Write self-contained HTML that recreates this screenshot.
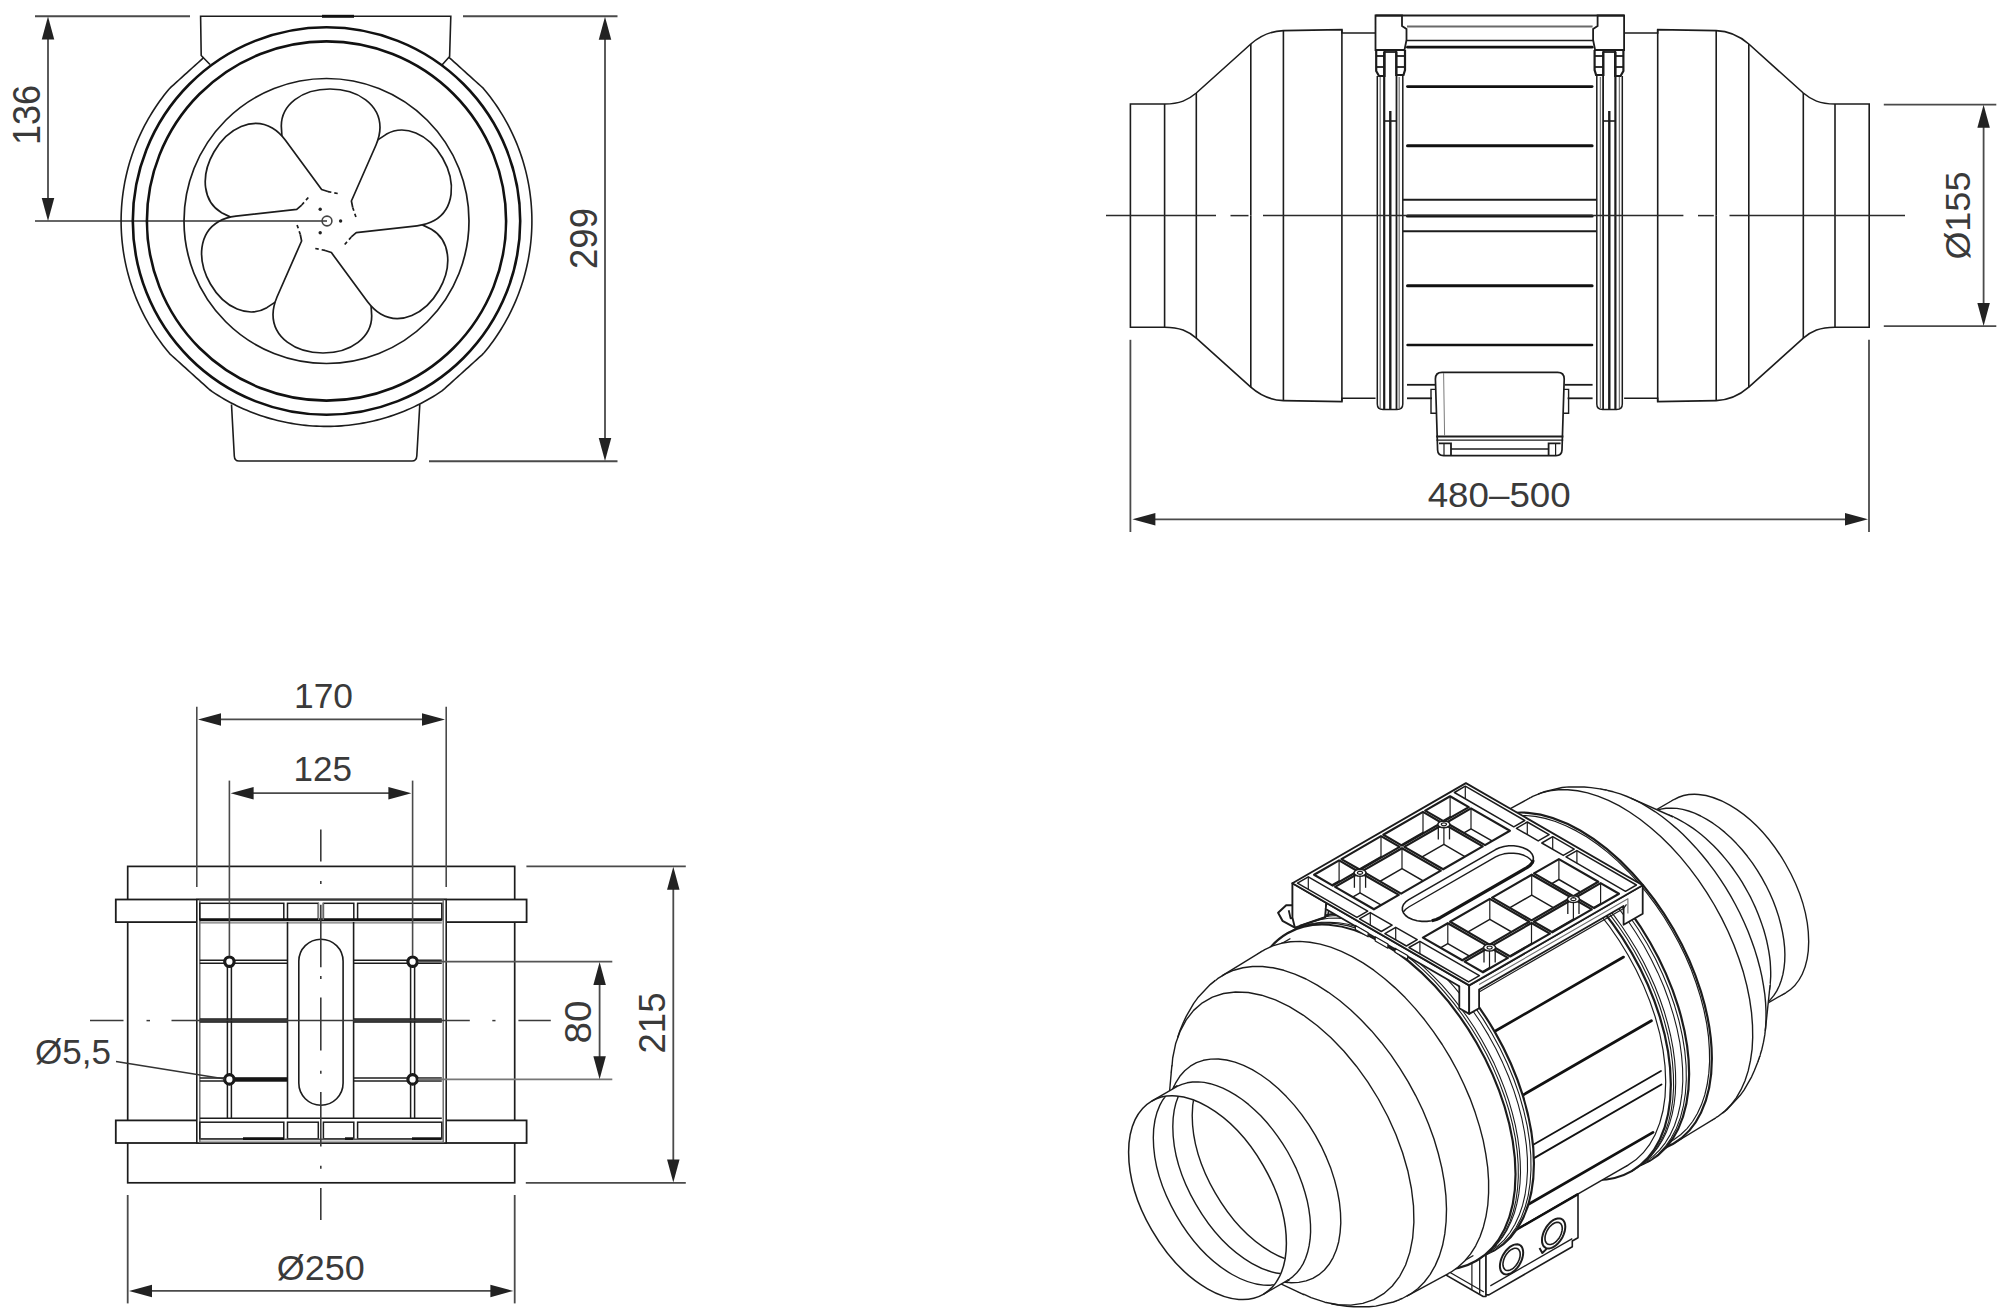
<!DOCTYPE html>
<html><head><meta charset="utf-8"><title>Inline duct fan – dimensions</title>
<style>html,body{margin:0;padding:0;background:#fff;}body{width:2000px;height:1314px;overflow:hidden;font-family:"Liberation Sans",sans-serif;}svg{display:block}</style></head>
<body>
<svg width="2000" height="1314" viewBox="0 0 2000 1314" font-family="'Liberation Sans', sans-serif" stroke-linecap="butt">
<rect width="2000" height="1314" fill="#ffffff"/>
<g id="front">
<line x1="35" y1="16.3" x2="190" y2="16.3" stroke="#4a4a4a" stroke-width="2" />
<line x1="35" y1="221" x2="327" y2="221" stroke="#666" stroke-width="2" />
<line x1="48" y1="30" x2="48" y2="205" stroke="#4a4a4a" stroke-width="1.8" />
<polygon points="48,16.5 54.25,39.5 41.75,39.5" fill="#222"/>
<polygon points="48,221 41.75,198 54.25,198" fill="#222"/>
<text x="40" y="115" font-size="38.5" text-anchor="middle" fill="#3a3a3a" textLength="60" lengthAdjust="spacingAndGlyphs" transform="rotate(-90 40 115)">136</text>
<line x1="463" y1="16.3" x2="617.5" y2="16.3" stroke="#4a4a4a" stroke-width="2" />
<line x1="429" y1="461.2" x2="617.5" y2="461.2" stroke="#4a4a4a" stroke-width="2" />
<line x1="605" y1="30" x2="605" y2="450" stroke="#4a4a4a" stroke-width="1.8" />
<polygon points="605,16.8 611.25,39.8 598.75,39.8" fill="#222"/>
<polygon points="605,461 598.75,438 611.25,438" fill="#222"/>
<text x="597.2" y="238.5" font-size="38.5" text-anchor="middle" fill="#3a3a3a" textLength="61" lengthAdjust="spacingAndGlyphs" transform="rotate(-90 597.2 238.5)">299</text>
<path d="M231.5,404.5 L234.3,456 Q234.5,461 239,461 L412,461 Q416.5,461 416.8,456 L419.8,404.5" stroke="#1c1c1c" stroke-width="1.6" fill="none" />
<path d="M210,64.5 L201.2,55.5 L200.6,16.3 L450.8,16.3 L449.6,56.5 L442,65" stroke="#1c1c1c" stroke-width="1.6" fill="none" />
<line x1="322" y1="16.3" x2="354" y2="16.3" stroke="#111" stroke-width="3" />
<path d="M448.94,57.29 L451.59,59.68 L454.24,62.08 L456.9,64.47 L459.55,66.86 L462.21,69.26 L464.86,71.65 L467.52,74.05 L470.17,76.44 L472.82,78.83 L475.48,81.23 L478.13,83.62 L480.79,86.02 L483.4,88.45 L485.69,91.2 L487.93,94 L490.13,96.84 L492.27,99.71 L494.36,102.63 L496.4,105.57 L498.39,108.56 L500.32,111.57 L502.21,114.62 L504.04,117.71 L505.81,120.82 L507.53,123.97 L509.2,127.14 L510.81,130.34 L512.36,133.57 L513.86,136.83 L515.3,140.11 L516.69,143.42 L518.01,146.75 L519.28,150.1 L520.48,153.48 L521.63,156.88 L522.72,160.29 L523.75,163.72 L524.72,167.18 L525.63,170.64 L526.48,174.13 L527.27,177.62 L527.99,181.13 L528.66,184.66 L529.26,188.19 L529.8,191.73 L530.28,195.29 L530.7,198.85 L531.06,202.41 L531.35,205.99 L531.58,209.56 L531.75,213.15 L531.86,216.73 L531.9,220.31 L531.88,223.9 L531.8,227.48 L531.65,231.06 L531.45,234.64 L531.18,238.22 L530.85,241.79 L530.45,245.35 L530,248.91 L529.48,252.45 L528.9,255.99 L528.26,259.52 L527.55,263.03 L526.79,266.54 L525.96,270.02 L525.08,273.5 L524.13,276.96 L523.12,280.4 L522.06,283.82 L520.93,287.22 L519.75,290.61 L518.5,293.97 L517.2,297.31 L515.84,300.62 L514.42,303.92 L512.94,307.18 L511.41,310.42 L509.82,313.64 L508.18,316.82 L506.48,319.98 L504.72,323.11 L502.91,326.2 L501.05,329.26 L499.14,332.29 L497.17,335.29 L495.15,338.25 L493.07,341.18 L490.95,344.06 L488.78,346.92 L486.56,349.73 L484.29,352.5 L481.8,355.07 L479.15,357.46 L476.49,359.86 L473.84,362.25 L471.19,364.64 L468.53,367.04 L465.88,369.43 L463.22,371.83 L460.57,374.22 L457.92,376.61 L455.26,379.01 L452.61,381.4 L449.95,383.8 L447.3,386.19 L444.64,388.58 L441.93,390.9 L438.94,392.89 L435.93,394.82 L432.88,396.71 L429.79,398.54 L426.68,400.31 L423.53,402.03 L420.36,403.7 L417.16,405.31 L413.93,406.86 L410.67,408.36 L407.39,409.8 L404.08,411.19 L400.75,412.51 L397.4,413.78 L394.02,414.98 L390.62,416.13 L387.21,417.22 L383.78,418.25 L380.32,419.22 L376.86,420.13 L373.37,420.98 L369.88,421.77 L366.37,422.49 L362.84,423.16 L359.31,423.76 L355.77,424.3 L352.21,424.78 L348.65,425.2 L345.09,425.56 L341.51,425.85 L337.94,426.08 L334.35,426.25 L330.77,426.36 L327.19,426.4 L323.6,426.38 L320.02,426.3 L316.44,426.15 L312.86,425.95 L309.28,425.68 L305.71,425.35 L302.15,424.95 L298.59,424.5 L295.05,423.98 L291.51,423.4 L287.98,422.76 L284.47,422.05 L280.96,421.29 L277.48,420.46 L274,419.58 L270.54,418.63 L267.1,417.62 L263.68,416.56 L260.28,415.43 L256.89,414.25 L253.53,413 L250.19,411.7 L246.88,410.34 L243.58,408.92 L240.32,407.44 L237.08,405.91 L233.86,404.32 L230.68,402.68 L227.52,400.98 L224.39,399.22 L221.3,397.41 L218.24,395.55 L215.21,393.64 L212.21,391.67 L209.37,389.5 L206.72,387.11 L204.06,384.71 L201.41,382.32 L198.76,379.92 L196.1,377.53 L193.45,375.14 L190.79,372.74 L188.14,370.35 L185.48,367.95 L182.83,365.56 L180.18,363.17 L177.52,360.77 L174.87,358.38 L172.21,355.98 L169.6,353.55 L167.31,350.8 L165.07,348 L162.87,345.16 L160.73,342.29 L158.64,339.37 L156.6,336.43 L154.61,333.44 L152.68,330.43 L150.79,327.38 L148.96,324.29 L147.19,321.18 L145.47,318.03 L143.8,314.86 L142.19,311.66 L140.64,308.43 L139.14,305.17 L137.7,301.89 L136.31,298.58 L134.99,295.25 L133.72,291.9 L132.52,288.52 L131.37,285.12 L130.28,281.71 L129.25,278.28 L128.28,274.82 L127.37,271.36 L126.52,267.87 L125.73,264.38 L125.01,260.87 L124.34,257.34 L123.74,253.81 L123.2,250.27 L122.72,246.71 L122.3,243.15 L121.94,239.59 L121.65,236.01 L121.42,232.44 L121.25,228.85 L121.14,225.27 L121.1,221.69 L121.12,218.1 L121.2,214.52 L121.35,210.94 L121.55,207.36 L121.82,203.78 L122.15,200.21 L122.55,196.65 L123,193.09 L123.52,189.55 L124.1,186.01 L124.74,182.48 L125.45,178.97 L126.21,175.46 L127.04,171.98 L127.92,168.5 L128.87,165.04 L129.88,161.6 L130.94,158.18 L132.07,154.78 L133.25,151.39 L134.5,148.03 L135.8,144.69 L137.16,141.38 L138.58,138.08 L140.06,134.82 L141.59,131.58 L143.18,128.36 L144.82,125.18 L146.52,122.02 L148.28,118.89 L150.09,115.8 L151.95,112.74 L153.86,109.71 L155.83,106.71 L157.85,103.75 L159.93,100.82 L162.05,97.94 L164.22,95.08 L166.44,92.27 L168.71,89.5 L171.2,86.93 L173.85,84.54 L176.51,82.14 L179.16,79.75 L181.81,77.36 L184.47,74.96 L187.12,72.57 L189.78,70.17 L192.43,67.78 L195.08,65.39 L197.74,62.99 L200.39,60.6 L203.05,58.2 L202.52,57.24" stroke="#1c1c1c" stroke-width="1.6" fill="none" stroke-linejoin="round"/>
<circle cx="326.5" cy="221" r="193.7" stroke="#111" stroke-width="2.6" fill="none" />
<circle cx="326.5" cy="221" r="179.6" stroke="#111" stroke-width="2.6" fill="none" />
<circle cx="326.5" cy="221" r="142.5" stroke="#1c1c1c" stroke-width="1.7" fill="none" />
<g transform="translate(326.5 221) rotate(0)">
<path d="M26.2,-13.5 L24.9,-20 L49.5,-76 C52.2,-82.5 53.5,-87.5 53.5,-93.5 C53.5,-116 32,-132 3.5,-132 C-25,-132 -45.2,-116 -45.2,-95 L-44.6,-85" stroke="#1c1c1c" stroke-width="1.7" fill="none" stroke-linejoin="round"/>
<path d="M26.2,-13.5 L29.6,-3.5" stroke="#1c1c1c" stroke-width="1.7" fill="none" stroke-dasharray="3.5 3"/>
</g>
<g transform="translate(326.5 221) rotate(-60)">
<path d="M26.2,-13.5 L24.9,-20 L49.5,-76 C52.2,-82.5 53.5,-87.5 53.5,-93.5 C53.5,-116 32,-132 3.5,-132 C-25,-132 -45.2,-116 -45.2,-95 L-44.6,-85" stroke="#1c1c1c" stroke-width="1.7" fill="none" stroke-linejoin="round"/>
<path d="M26.2,-13.5 L29.6,-3.5" stroke="#1c1c1c" stroke-width="1.7" fill="none" stroke-dasharray="3.5 3"/>
</g>
<g transform="translate(326.5 221) rotate(-120)">
<path d="M26.2,-13.5 L24.9,-20 L49.5,-76 C52.2,-82.5 53.5,-87.5 53.5,-93.5 C53.5,-116 32,-132 3.5,-132 C-25,-132 -45.2,-116 -45.2,-95 L-44.6,-85" stroke="#1c1c1c" stroke-width="1.7" fill="none" stroke-linejoin="round"/>
<path d="M26.2,-13.5 L29.6,-3.5" stroke="#1c1c1c" stroke-width="1.7" fill="none" stroke-dasharray="3.5 3"/>
</g>
<g transform="translate(326.5 221) rotate(-180)">
<path d="M26.2,-13.5 L24.9,-20 L49.5,-76 C52.2,-82.5 53.5,-87.5 53.5,-93.5 C53.5,-116 32,-132 3.5,-132 C-25,-132 -45.2,-116 -45.2,-95 L-44.6,-85" stroke="#1c1c1c" stroke-width="1.7" fill="none" stroke-linejoin="round"/>
<path d="M26.2,-13.5 L29.6,-3.5" stroke="#1c1c1c" stroke-width="1.7" fill="none" stroke-dasharray="3.5 3"/>
</g>
<g transform="translate(326.5 221) rotate(-240)">
<path d="M26.2,-13.5 L24.9,-20 L49.5,-76 C52.2,-82.5 53.5,-87.5 53.5,-93.5 C53.5,-116 32,-132 3.5,-132 C-25,-132 -45.2,-116 -45.2,-95 L-44.6,-85" stroke="#1c1c1c" stroke-width="1.7" fill="none" stroke-linejoin="round"/>
<path d="M26.2,-13.5 L29.6,-3.5" stroke="#1c1c1c" stroke-width="1.7" fill="none" stroke-dasharray="3.5 3"/>
</g>
<g transform="translate(326.5 221) rotate(-300)">
<path d="M26.2,-13.5 L24.9,-20 L49.5,-76 C52.2,-82.5 53.5,-87.5 53.5,-93.5 C53.5,-116 32,-132 3.5,-132 C-25,-132 -45.2,-116 -45.2,-95 L-44.6,-85" stroke="#1c1c1c" stroke-width="1.7" fill="none" stroke-linejoin="round"/>
<path d="M26.2,-13.5 L29.6,-3.5" stroke="#1c1c1c" stroke-width="1.7" fill="none" stroke-dasharray="3.5 3"/>
</g>
<circle cx="327" cy="221" r="4.9" stroke="#444" stroke-width="1.6" fill="none" />
<circle cx="340.6" cy="221" r="1.7" fill="#222"/>
<circle cx="320.2" cy="232.78" r="1.7" fill="#222"/>
<circle cx="320.2" cy="209.22" r="1.7" fill="#222"/>
</g>
<g id="side">
<path d="M1130.4,215.6 L1130.4,104 L1164.6,104 C1180,104 1188,100 1196.3,93 L1250.8,44 C1260,36 1270,31 1283.4,30.6 L1341.9,29.6 L1341.9,33 L1375.5,33" stroke="#1c1c1c" stroke-width="1.6" fill="none" />
<line x1="1164.6" y1="104" x2="1164.6" y2="215.6" stroke="#1c1c1c" stroke-width="1.6" />
<line x1="1196.3" y1="93" x2="1196.3" y2="215.6" stroke="#1c1c1c" stroke-width="1.6" />
<line x1="1250.8" y1="44" x2="1250.8" y2="215.6" stroke="#1c1c1c" stroke-width="1.6" />
<line x1="1283.4" y1="30.6" x2="1283.4" y2="215.6" stroke="#1c1c1c" stroke-width="1.6" />
<line x1="1341.9" y1="29.6" x2="1341.9" y2="215.6" stroke="#1c1c1c" stroke-width="1.6" />
<path d="M1130.4,215.6 L1130.4,327.2 L1164.6,327.2 C1180,327.2 1188,331.2 1196.3,338.2 L1250.8,387.2 C1260,395.2 1270,400.2 1283.4,400.6 L1341.9,401.6 L1341.9,398.2 L1375.5,398.2" stroke="#1c1c1c" stroke-width="1.6" fill="none" />
<line x1="1164.6" y1="327.2" x2="1164.6" y2="215.6" stroke="#1c1c1c" stroke-width="1.6" />
<line x1="1196.3" y1="338.2" x2="1196.3" y2="215.6" stroke="#1c1c1c" stroke-width="1.6" />
<line x1="1250.8" y1="387.2" x2="1250.8" y2="215.6" stroke="#1c1c1c" stroke-width="1.6" />
<line x1="1283.4" y1="400.6" x2="1283.4" y2="215.6" stroke="#1c1c1c" stroke-width="1.6" />
<line x1="1341.9" y1="401.6" x2="1341.9" y2="215.6" stroke="#1c1c1c" stroke-width="1.6" />
<path d="M1869.2,215.6 L1869.2,104 L1835,104 C1819.6,104 1811.6,100 1803.3,93 L1748.8,44 C1739.6,36 1729.6,31 1716.2,30.6 L1657.7,29.6 L1657.7,33 L1624.1,33" stroke="#1c1c1c" stroke-width="1.6" fill="none" />
<line x1="1835" y1="104" x2="1835" y2="215.6" stroke="#1c1c1c" stroke-width="1.6" />
<line x1="1803.3" y1="93" x2="1803.3" y2="215.6" stroke="#1c1c1c" stroke-width="1.6" />
<line x1="1748.8" y1="44" x2="1748.8" y2="215.6" stroke="#1c1c1c" stroke-width="1.6" />
<line x1="1716.2" y1="30.6" x2="1716.2" y2="215.6" stroke="#1c1c1c" stroke-width="1.6" />
<line x1="1657.7" y1="29.6" x2="1657.7" y2="215.6" stroke="#1c1c1c" stroke-width="1.6" />
<path d="M1869.2,215.6 L1869.2,327.2 L1835,327.2 C1819.6,327.2 1811.6,331.2 1803.3,338.2 L1748.8,387.2 C1739.6,395.2 1729.6,400.2 1716.2,400.6 L1657.7,401.6 L1657.7,398.2 L1624.1,398.2" stroke="#1c1c1c" stroke-width="1.6" fill="none" />
<line x1="1835" y1="327.2" x2="1835" y2="215.6" stroke="#1c1c1c" stroke-width="1.6" />
<line x1="1803.3" y1="338.2" x2="1803.3" y2="215.6" stroke="#1c1c1c" stroke-width="1.6" />
<line x1="1748.8" y1="387.2" x2="1748.8" y2="215.6" stroke="#1c1c1c" stroke-width="1.6" />
<line x1="1716.2" y1="400.6" x2="1716.2" y2="215.6" stroke="#1c1c1c" stroke-width="1.6" />
<line x1="1657.7" y1="401.6" x2="1657.7" y2="215.6" stroke="#1c1c1c" stroke-width="1.6" />
<path d="M1377.3,76 L1377.3,404 Q1377.3,409.5 1383,409.5 L1397,409.5 Q1402.8,409.5 1402.8,404 L1402.8,76" stroke="#1c1c1c" stroke-width="1.5" fill="none" />
<line x1="1380.2" y1="77" x2="1380.2" y2="408" stroke="#7a7a7a" stroke-width="1.3" />
<line x1="1384.2" y1="52" x2="1384.2" y2="409" stroke="#1c1c1c" stroke-width="2.2" />
<line x1="1396.5" y1="52" x2="1396.5" y2="409" stroke="#1c1c1c" stroke-width="1.8" />
<line x1="1399.2" y1="77" x2="1399.2" y2="408" stroke="#7a7a7a" stroke-width="1.3" />
<line x1="1390.3" y1="111" x2="1390.3" y2="409" stroke="#1c1c1c" stroke-width="2.4" />
<line x1="1384.2" y1="121" x2="1396.5" y2="121" stroke="#1c1c1c" stroke-width="1.6" />
<path d="M1375.5,50 L1375.5,15.5 L1402,15.5 L1402,26 L1406.5,29 L1406.5,40 L1404.5,50 Z" stroke="#1c1c1c" stroke-width="1.8" fill="none" />
<path d="M1376.2,50 L1376.2,71 L1379,76 L1384.5,76 L1384.5,50" stroke="#1c1c1c" stroke-width="2.2" fill="none" />
<path d="M1396.2,50 L1396.2,75 L1403.5,75 L1405,70 L1405,50" stroke="#1c1c1c" stroke-width="2.2" fill="none" />
<line x1="1376.5" y1="56" x2="1384" y2="56" stroke="#1c1c1c" stroke-width="1.8" />
<line x1="1376.5" y1="67" x2="1384" y2="67" stroke="#1c1c1c" stroke-width="1.8" />
<line x1="1396.5" y1="56" x2="1405" y2="56" stroke="#1c1c1c" stroke-width="1.8" />
<line x1="1396.5" y1="67" x2="1405" y2="67" stroke="#1c1c1c" stroke-width="1.8" />
<line x1="1384.5" y1="52" x2="1396.2" y2="52" stroke="#1c1c1c" stroke-width="1.8" />
<path d="M1622.3,76 L1622.3,404 Q1622.3,409.5 1616.6,409.5 L1602.6,409.5 Q1596.8,409.5 1596.8,404 L1596.8,76" stroke="#1c1c1c" stroke-width="1.5" fill="none" />
<line x1="1619.4" y1="77" x2="1619.4" y2="408" stroke="#7a7a7a" stroke-width="1.3" />
<line x1="1615.4" y1="52" x2="1615.4" y2="409" stroke="#1c1c1c" stroke-width="2.2" />
<line x1="1603.1" y1="52" x2="1603.1" y2="409" stroke="#1c1c1c" stroke-width="1.8" />
<line x1="1600.4" y1="77" x2="1600.4" y2="408" stroke="#7a7a7a" stroke-width="1.3" />
<line x1="1609.3" y1="111" x2="1609.3" y2="409" stroke="#1c1c1c" stroke-width="2.4" />
<line x1="1615.4" y1="121" x2="1603.1" y2="121" stroke="#1c1c1c" stroke-width="1.6" />
<path d="M1624.1,50 L1624.1,15.5 L1597.6,15.5 L1597.6,26 L1593.1,29 L1593.1,40 L1595.1,50 Z" stroke="#1c1c1c" stroke-width="1.8" fill="none" />
<path d="M1623.4,50 L1623.4,71 L1620.6,76 L1615.1,76 L1615.1,50" stroke="#1c1c1c" stroke-width="2.2" fill="none" />
<path d="M1603.4,50 L1603.4,75 L1596.1,75 L1594.6,70 L1594.6,50" stroke="#1c1c1c" stroke-width="2.2" fill="none" />
<line x1="1623.1" y1="56" x2="1615.6" y2="56" stroke="#1c1c1c" stroke-width="1.8" />
<line x1="1623.1" y1="67" x2="1615.6" y2="67" stroke="#1c1c1c" stroke-width="1.8" />
<line x1="1603.1" y1="56" x2="1594.6" y2="56" stroke="#1c1c1c" stroke-width="1.8" />
<line x1="1603.1" y1="67" x2="1594.6" y2="67" stroke="#1c1c1c" stroke-width="1.8" />
<line x1="1615.1" y1="52" x2="1603.4" y2="52" stroke="#1c1c1c" stroke-width="1.8" />
<line x1="1375.5" y1="15.5" x2="1624.1" y2="15.5" stroke="#1c1c1c" stroke-width="2" />
<line x1="1407" y1="26.5" x2="1592.6" y2="26.5" stroke="#6a6a6a" stroke-width="2" />
<line x1="1406" y1="40.5" x2="1593.6" y2="40.5" stroke="#1c1c1c" stroke-width="1.6" />
<line x1="1407.5" y1="47.2" x2="1592.1" y2="47.2" stroke="#111" stroke-width="2.8" stroke-linecap="round"/>
<line x1="1407.5" y1="86.6" x2="1592.1" y2="86.6" stroke="#111" stroke-width="2.8" stroke-linecap="round"/>
<line x1="1407.5" y1="145.8" x2="1592.1" y2="145.8" stroke="#111" stroke-width="3" stroke-linecap="round"/>
<line x1="1407.5" y1="216" x2="1592.1" y2="216" stroke="#111" stroke-width="3.2" stroke-linecap="round"/>
<line x1="1407.5" y1="285.8" x2="1592.1" y2="285.8" stroke="#111" stroke-width="3" stroke-linecap="round"/>
<line x1="1407.5" y1="345" x2="1592.1" y2="345" stroke="#111" stroke-width="2.4" stroke-linecap="round"/>
<line x1="1403" y1="199.8" x2="1596.6" y2="199.8" stroke="#1c1c1c" stroke-width="2" />
<line x1="1403" y1="231.3" x2="1596.6" y2="231.3" stroke="#1c1c1c" stroke-width="2" />
<path d="M1437.6,450 L1435.4,379 Q1435.4,372.4 1442,372.4 L1557.6,372.4 Q1564.2,372.4 1564.2,379 L1562,450 Q1561.8,455.6 1556,455.6 L1443.6,455.6 Q1437.8,455.6 1437.6,450 Z" stroke="#1c1c1c" stroke-width="1.7" fill="#fff" />
<line x1="1436.2" y1="436.6" x2="1563.4" y2="436.6" stroke="#1c1c1c" stroke-width="2" />
<line x1="1436.4" y1="440.2" x2="1563.2" y2="440.2" stroke="#1c1c1c" stroke-width="1.3" />
<line x1="1451" y1="449" x2="1548.6" y2="449" stroke="#1c1c1c" stroke-width="1.4" />
<path d="M1439,443.4 L1451,443.4 L1451,455" stroke="#1c1c1c" stroke-width="1.8" fill="none" />
<path d="M1560.6,443.4 L1548.6,443.4 L1548.6,455" stroke="#1c1c1c" stroke-width="1.8" fill="none" />
<line x1="1444" y1="444" x2="1444" y2="455" stroke="#1c1c1c" stroke-width="1.2" />
<line x1="1555.6" y1="444" x2="1555.6" y2="455" stroke="#1c1c1c" stroke-width="1.2" />
<line x1="1443.6" y1="373" x2="1444.6" y2="436" stroke="#7a7a7a" stroke-width="1" />
<line x1="1407" y1="384.8" x2="1435" y2="384.8" stroke="#1c1c1c" stroke-width="1.8" />
<line x1="1407" y1="398.3" x2="1432" y2="398.3" stroke="#1c1c1c" stroke-width="1.8" />
<path d="M1435.6,389.4 L1431,389.4 L1431,413.3 L1436.4,413.3" stroke="#1c1c1c" stroke-width="1.4" fill="none" />
<line x1="1592.6" y1="384.8" x2="1564.6" y2="384.8" stroke="#1c1c1c" stroke-width="1.8" />
<line x1="1592.6" y1="398.3" x2="1567.6" y2="398.3" stroke="#1c1c1c" stroke-width="1.8" />
<path d="M1564,389.4 L1568.6,389.4 L1568.6,413.3 L1563.2,413.3" stroke="#1c1c1c" stroke-width="1.4" fill="none" />
<line x1="1106" y1="215.6" x2="1216" y2="215.6" stroke="#2a2a2a" stroke-width="1.5" />
<line x1="1230.5" y1="215.6" x2="1248.5" y2="215.6" stroke="#2a2a2a" stroke-width="1.5" />
<line x1="1263" y1="215.6" x2="1683.4" y2="215.6" stroke="#2a2a2a" stroke-width="1.5" />
<line x1="1698" y1="215.6" x2="1713.8" y2="215.6" stroke="#2a2a2a" stroke-width="1.5" />
<line x1="1729.5" y1="215.6" x2="1905" y2="215.6" stroke="#2a2a2a" stroke-width="1.5" />
<line x1="1130.4" y1="339.8" x2="1130.4" y2="532" stroke="#4a4a4a" stroke-width="1.8" />
<line x1="1869" y1="339.8" x2="1869" y2="532" stroke="#4a4a4a" stroke-width="1.8" />
<line x1="1145" y1="519.3" x2="1855" y2="519.3" stroke="#4a4a4a" stroke-width="1.8" />
<polygon points="1132.4,519.3 1155.4,513.05 1155.4,525.55" fill="#222"/>
<polygon points="1868,519.3 1845,525.55 1845,513.05" fill="#222"/>
<text x="1499.2" y="507.4" font-size="35" text-anchor="middle" fill="#3a3a3a" textLength="143" lengthAdjust="spacingAndGlyphs">480–500</text>
<line x1="1883.8" y1="104.6" x2="1996.3" y2="104.6" stroke="#4a4a4a" stroke-width="1.8" />
<line x1="1883.8" y1="326.2" x2="1996.3" y2="326.2" stroke="#4a4a4a" stroke-width="1.8" />
<line x1="1983.6" y1="118" x2="1983.6" y2="313" stroke="#4a4a4a" stroke-width="1.8" />
<polygon points="1983.6,104.8 1989.85,127.8 1977.35,127.8" fill="#222"/>
<polygon points="1983.6,326 1977.35,303 1989.85,303" fill="#222"/>
<text x="1970.2" y="215.6" font-size="35.5" text-anchor="middle" fill="#3a3a3a" textLength="88" lengthAdjust="spacingAndGlyphs" transform="rotate(-90 1970.2 215.6)">Ø155</text>
</g>
<g id="top">
<rect x="127.7" y="866.4" width="387" height="316.4" stroke="#1c1c1c" stroke-width="1.7" fill="none" />
<rect x="115.8" y="899.5" width="410.8" height="22.6" stroke="#1c1c1c" stroke-width="1.8" fill="#fff" />
<rect x="115.8" y="1120.4" width="410.8" height="22.6" stroke="#1c1c1c" stroke-width="1.8" fill="#fff" />
<rect x="196.8" y="899.5" width="249.4" height="243.5" stroke="#1c1c1c" stroke-width="1.6" fill="#fff" />
<rect x="199.8" y="900.3" width="243.4" height="241.9" stroke="#666" stroke-width="1.4" fill="none" />
<rect x="199.8" y="903.3" width="84" height="16.4" stroke="#1c1c1c" stroke-width="1.5" fill="none" />
<rect x="199.8" y="1122.2" width="84" height="16.6" stroke="#1c1c1c" stroke-width="1.5" fill="none" />
<rect x="287.5" y="903.3" width="30.8" height="16.4" stroke="#1c1c1c" stroke-width="1.5" fill="none" />
<rect x="287.5" y="1122.2" width="30.8" height="16.6" stroke="#1c1c1c" stroke-width="1.5" fill="none" />
<rect x="323.4" y="903.3" width="30.4" height="16.4" stroke="#1c1c1c" stroke-width="1.5" fill="none" />
<rect x="323.4" y="1122.2" width="30.4" height="16.6" stroke="#1c1c1c" stroke-width="1.5" fill="none" />
<rect x="357.6" y="903.3" width="84.2" height="16.4" stroke="#1c1c1c" stroke-width="1.5" fill="none" />
<rect x="357.6" y="1122.2" width="84.2" height="16.6" stroke="#1c1c1c" stroke-width="1.5" fill="none" />
<line x1="199.8" y1="919.8" x2="441.8" y2="919.8" stroke="#111" stroke-width="3" />
<line x1="199.8" y1="922.9" x2="441.8" y2="922.9" stroke="#7a7a7a" stroke-width="1.4" />
<line x1="199.8" y1="1118.2" x2="441.8" y2="1118.2" stroke="#1c1c1c" stroke-width="1.6" />
<line x1="199.8" y1="1139.4" x2="441.8" y2="1139.4" stroke="#555" stroke-width="1.6" />
<line x1="243" y1="1138.6" x2="284" y2="1138.6" stroke="#111" stroke-width="2.6" />
<line x1="345" y1="1138.6" x2="353" y2="1138.6" stroke="#111" stroke-width="2.6" />
<line x1="412" y1="1138.6" x2="441" y2="1138.6" stroke="#111" stroke-width="2.6" />
<line x1="318.6" y1="903" x2="318.6" y2="920" stroke="#7a7a7a" stroke-width="1.2" />
<line x1="323.2" y1="903" x2="323.2" y2="920" stroke="#7a7a7a" stroke-width="1.2" />
<line x1="287.5" y1="922" x2="287.5" y2="1118" stroke="#1c1c1c" stroke-width="1.6" />
<line x1="353.6" y1="922" x2="353.6" y2="1118" stroke="#1c1c1c" stroke-width="1.6" />
<line x1="199.8" y1="960.2" x2="287.5" y2="960.2" stroke="#1c1c1c" stroke-width="1.5" />
<line x1="199.8" y1="963.2" x2="287.5" y2="963.2" stroke="#1c1c1c" stroke-width="1.5" />
<line x1="353.6" y1="960.2" x2="441.8" y2="960.2" stroke="#1c1c1c" stroke-width="1.5" />
<line x1="353.6" y1="963.2" x2="441.8" y2="963.2" stroke="#1c1c1c" stroke-width="1.5" />
<line x1="199.8" y1="1019.1" x2="287.5" y2="1019.1" stroke="#1c1c1c" stroke-width="1.5" />
<line x1="199.8" y1="1022.1" x2="287.5" y2="1022.1" stroke="#1c1c1c" stroke-width="1.5" />
<line x1="353.6" y1="1019.1" x2="441.8" y2="1019.1" stroke="#1c1c1c" stroke-width="1.5" />
<line x1="353.6" y1="1022.1" x2="441.8" y2="1022.1" stroke="#1c1c1c" stroke-width="1.5" />
<line x1="199.8" y1="1077.9" x2="287.5" y2="1077.9" stroke="#1c1c1c" stroke-width="1.5" />
<line x1="199.8" y1="1080.9" x2="287.5" y2="1080.9" stroke="#1c1c1c" stroke-width="1.5" />
<line x1="353.6" y1="1077.9" x2="441.8" y2="1077.9" stroke="#1c1c1c" stroke-width="1.5" />
<line x1="353.6" y1="1080.9" x2="441.8" y2="1080.9" stroke="#1c1c1c" stroke-width="1.5" />
<line x1="234" y1="1079.4" x2="287.5" y2="1079.4" stroke="#151515" stroke-width="3.4" />
<line x1="199.8" y1="1020.6" x2="287.5" y2="1020.6" stroke="#333" stroke-width="3.2" />
<line x1="353.6" y1="1020.6" x2="441.8" y2="1020.6" stroke="#333" stroke-width="3.2" />
<line x1="227.4" y1="961.7" x2="227.4" y2="1118" stroke="#1c1c1c" stroke-width="1.5" />
<line x1="231.4" y1="961.7" x2="231.4" y2="1118" stroke="#1c1c1c" stroke-width="1.5" />
<line x1="410.6" y1="961.7" x2="410.6" y2="1118" stroke="#1c1c1c" stroke-width="1.5" />
<line x1="414.6" y1="961.7" x2="414.6" y2="1118" stroke="#1c1c1c" stroke-width="1.5" />
<rect x="298.8" y="939.2" width="44.3" height="166" stroke="#1c1c1c" stroke-width="1.6" fill="none" rx="22.15"/>
<line x1="320.8" y1="829.6" x2="320.8" y2="861.6" stroke="#3a3a3a" stroke-width="1.6" />
<line x1="320.8" y1="881" x2="320.8" y2="884" stroke="#3a3a3a" stroke-width="1.6" />
<line x1="320.8" y1="904.8" x2="320.8" y2="967.2" stroke="#3a3a3a" stroke-width="1.6" />
<line x1="320.8" y1="976" x2="320.8" y2="979" stroke="#3a3a3a" stroke-width="1.6" />
<line x1="320.8" y1="997.6" x2="320.8" y2="1050.4" stroke="#3a3a3a" stroke-width="1.6" />
<line x1="320.8" y1="1070.8" x2="320.8" y2="1073.8" stroke="#3a3a3a" stroke-width="1.6" />
<line x1="320.8" y1="1092" x2="320.8" y2="1146.4" stroke="#3a3a3a" stroke-width="1.6" />
<line x1="320.8" y1="1165.8" x2="320.8" y2="1168.8" stroke="#3a3a3a" stroke-width="1.6" />
<line x1="320.8" y1="1188" x2="320.8" y2="1220" stroke="#3a3a3a" stroke-width="1.6" />
<line x1="90" y1="1020.6" x2="123.5" y2="1020.6" stroke="#3a3a3a" stroke-width="1.5" />
<line x1="146.5" y1="1020.6" x2="150" y2="1020.6" stroke="#3a3a3a" stroke-width="1.5" />
<line x1="171.5" y1="1020.6" x2="469.8" y2="1020.6" stroke="#3a3a3a" stroke-width="1.5" />
<line x1="492.3" y1="1020.6" x2="495.5" y2="1020.6" stroke="#3a3a3a" stroke-width="1.5" />
<line x1="518.4" y1="1020.6" x2="550.8" y2="1020.6" stroke="#3a3a3a" stroke-width="1.5" />
<circle cx="229.4" cy="961.7" r="4.7" stroke="#1a1a1a" stroke-width="3.2" fill="#fff" />
<circle cx="229.4" cy="1079.4" r="4.7" stroke="#1a1a1a" stroke-width="3.2" fill="#fff" />
<circle cx="412.6" cy="961.7" r="4.7" stroke="#1a1a1a" stroke-width="3.2" fill="#fff" />
<circle cx="412.6" cy="1079.4" r="4.7" stroke="#1a1a1a" stroke-width="3.2" fill="#fff" />
<line x1="196.8" y1="706.8" x2="196.8" y2="887" stroke="#4a4a4a" stroke-width="1.6" />
<line x1="446.2" y1="706.8" x2="446.2" y2="887" stroke="#4a4a4a" stroke-width="1.6" />
<line x1="210" y1="719.4" x2="433" y2="719.4" stroke="#4a4a4a" stroke-width="1.8" />
<polygon points="198,719.4 221,713.15 221,725.65" fill="#222"/>
<polygon points="445,719.4 422,725.65 422,713.15" fill="#222"/>
<text x="323.5" y="707.6" font-size="35.5" text-anchor="middle" fill="#3a3a3a" textLength="59" lengthAdjust="spacingAndGlyphs">170</text>
<line x1="229.4" y1="780.6" x2="229.4" y2="956" stroke="#4a4a4a" stroke-width="1.6" />
<line x1="412.6" y1="780.6" x2="412.6" y2="956" stroke="#4a4a4a" stroke-width="1.6" />
<line x1="243" y1="793.2" x2="399" y2="793.2" stroke="#4a4a4a" stroke-width="1.8" />
<polygon points="230.6,793.2 253.6,786.95 253.6,799.45" fill="#222"/>
<polygon points="411.4,793.2 388.4,799.45 388.4,786.95" fill="#222"/>
<text x="322.8" y="781.3" font-size="35.5" text-anchor="middle" fill="#3a3a3a" textLength="58.5" lengthAdjust="spacingAndGlyphs">125</text>
<line x1="418" y1="961.7" x2="612.3" y2="961.7" stroke="#555" stroke-width="1.8" />
<line x1="418" y1="1079.4" x2="612.3" y2="1079.4" stroke="#777" stroke-width="1.8" />
<line x1="599.6" y1="975" x2="599.6" y2="1066" stroke="#4a4a4a" stroke-width="1.8" />
<polygon points="599.6,962 605.85,985 593.35,985" fill="#222"/>
<polygon points="599.6,1079.2 593.35,1056.2 605.85,1056.2" fill="#222"/>
<text x="591.1" y="1021.9" font-size="37.5" text-anchor="middle" fill="#3a3a3a" textLength="43" lengthAdjust="spacingAndGlyphs" transform="rotate(-90 591.1 1021.9)">80</text>
<line x1="526.4" y1="866.4" x2="685.8" y2="866.4" stroke="#4a4a4a" stroke-width="1.8" />
<line x1="525.8" y1="1182.8" x2="685.8" y2="1182.8" stroke="#4a4a4a" stroke-width="1.8" />
<line x1="673.3" y1="880" x2="673.3" y2="1170" stroke="#4a4a4a" stroke-width="1.8" />
<polygon points="673.3,866.8 679.55,889.8 667.05,889.8" fill="#222"/>
<polygon points="673.3,1182.6 667.05,1159.6 679.55,1159.6" fill="#222"/>
<text x="665.1" y="1023" font-size="37.5" text-anchor="middle" fill="#3a3a3a" textLength="61" lengthAdjust="spacingAndGlyphs" transform="rotate(-90 665.1 1023)">215</text>
<line x1="127.7" y1="1195" x2="127.7" y2="1303.4" stroke="#4a4a4a" stroke-width="1.8" />
<line x1="514.7" y1="1195" x2="514.7" y2="1303.4" stroke="#4a4a4a" stroke-width="1.8" />
<line x1="142" y1="1290.9" x2="500" y2="1290.9" stroke="#4a4a4a" stroke-width="1.8" />
<polygon points="129,1290.9 152,1284.65 152,1297.15" fill="#222"/>
<polygon points="513.4,1290.9 490.4,1297.15 490.4,1284.65" fill="#222"/>
<text x="320.8" y="1279.6" font-size="35" text-anchor="middle" fill="#3a3a3a" textLength="88" lengthAdjust="spacingAndGlyphs">Ø250</text>
<text x="73.1" y="1064.4" font-size="35" text-anchor="middle" fill="#3a3a3a" textLength="76" lengthAdjust="spacingAndGlyphs">Ø5,5</text>
<line x1="116" y1="1061.4" x2="225" y2="1079" stroke="#333" stroke-width="1.5" />
</g>
<g id="iso">
<ellipse cx="1729.8" cy="896.2" rx="111.6" ry="64.4" transform="rotate(60 1729.8 896.2)" stroke="#1c1c1c" stroke-width="1.4" fill="#fff" />
<path d="M1674,799.5 L1650.1,813.3 L1761.7,1006.6 L1785.6,992.8 Z" stroke="none" stroke-width="0" fill="#fff" stroke-linejoin="round" />
<ellipse cx="1705.9" cy="909.9" rx="111.6" ry="64.4" transform="rotate(60 1705.9 909.9)" stroke="none" stroke-width="0" fill="#fff" />
<path d="M1674,799.5 L1650.1,813.3" stroke="#1c1c1c" stroke-width="1.4" fill="none" stroke-linejoin="round" />
<path d="M1785.6,992.8 L1761.7,1006.6" stroke="#1c1c1c" stroke-width="1.4" fill="none" stroke-linejoin="round" />
<path d="M1762.9,1005.9 L1767,1002.9 L1770.6,999.4 L1773.9,995.4 L1776.8,990.9 L1779.3,985.8 L1781.3,980.3 L1782.9,974.4 L1784,968.1 L1784.7,961.5 L1784.9,954.5 L1784.6,947.3 L1783.8,939.9 L1782.5,932.2 L1780.8,924.5 L1778.7,916.6 L1776.1,908.7 L1773.1,900.8 L1769.7,893 L1765.9,885.3 L1761.7,877.7 L1757.3,870.3 L1752.5,863.2 L1747.4,856.3 L1742.1,849.8 L1736.5,843.6 L1730.8,837.8 L1724.9,832.4 L1718.9,827.5 L1712.9,823.2 L1706.8,819.3 L1700.7,816 L1694.6,813.2 L1688.6,811 L1682.7,809.4 L1676.9,808.4 L1671.3,808.1 L1665.9,808.3 L1660.8,809.1 L1655.9,810.6 L1651.3,812.6" stroke="#1c1c1c" stroke-width="1.4" fill="none" stroke-linejoin="round" />
<path d="M1654.8,811 L1648.8,813.4 L1658.5,810.9 L1651.8,811.8 L1660.4,811.4 L1653.6,811.1 L1658.7,811.6 L1651.9,810.7 L1764.9,1006.3 L1767.5,1000 L1765.3,1004.7 L1768.5,998.6 L1763.9,1005.8 L1768,1000.6 L1760.9,1007.7 L1766.1,1003.7 Z" stroke="none" stroke-width="0" fill="#fff" stroke-linejoin="round" />
<ellipse cx="1683.3" cy="923" rx="123.6" ry="71.4" transform="rotate(60 1683.3 923)" stroke="none" stroke-width="0" fill="#fff" />
<path d="M1654.8,811 L1648.8,813.4 L1658.5,810.9 L1651.8,811.8 L1660.4,811.4 L1653.6,811.1 L1658.7,811.6 L1651.9,810.7" stroke="#1c1c1c" stroke-width="1.4" fill="none" stroke-linejoin="round" />
<path d="M1766.1,1003.7 L1760.9,1007.7 L1768,1000.6 L1763.9,1005.8 L1768.5,998.6 L1765.3,1004.7 L1767.5,1000 L1764.9,1006.3" stroke="#1c1c1c" stroke-width="1.4" fill="none" stroke-linejoin="round" />
<path d="M1769.4,990.2 L1770,985.8 L1770.4,981.2 L1770.7,976.5 L1770.7,971.7 L1770.5,966.7 L1770.2,961.7 L1769.6,956.6 L1768.8,951.4 L1767.8,946.1 L1766.7,940.8 L1765.3,935.4 L1763.8,930 L1762,924.6 L1760.1,919.2 L1758,913.8 L1755.8,908.4 L1753.3,903 L1750.8,897.7 L1748,892.5 L1745.1,887.3 L1742.1,882.2 L1738.9,877.2 L1735.6,872.3 L1732.2,867.5 L1728.7,862.9 L1725,858.4 L1721.3,854 L1717.5,849.8 L1713.6,845.8 L1709.6,841.9 L1705.6,838.2 L1701.5,834.8 L1697.4,831.5 L1693.2,828.4 L1689,825.6 L1684.8,823 L1680.6,820.6 L1676.5,818.4 L1672.3,816.5 L1668.1,814.8" stroke="#1c1c1c" stroke-width="1.4" fill="none" stroke-linejoin="round" />
<path d="M1673.3,817 L1630.8,798.1 L1765.3,1030.9 L1770.1,984.7 Z" stroke="none" stroke-width="0" fill="#fff" stroke-linejoin="round" />
<ellipse cx="1644.7" cy="945.3" rx="171.6" ry="99.1" transform="rotate(60 1644.7 945.3)" stroke="none" stroke-width="0" fill="#fff" />
<path d="M1673.3,817 L1630.8,798.1" stroke="#1c1c1c" stroke-width="1.4" fill="none" stroke-linejoin="round" />
<path d="M1770.1,984.7 L1765.3,1030.9" stroke="#1c1c1c" stroke-width="1.4" fill="none" stroke-linejoin="round" />
<path d="M1757.5,1062.1 L1759.9,1055.8 L1761.9,1049.2 L1763.5,1042.2 L1764.8,1034.9 L1765.6,1027.3 L1766,1019.4 L1766,1011.2 L1765.6,1002.9 L1764.8,994.3 L1763.5,985.6 L1761.9,976.7 L1759.9,967.7 L1757.5,958.7 L1754.7,949.6 L1751.5,940.4 L1748,931.3 L1744.1,922.3 L1739.9,913.3 L1735.4,904.5 L1730.5,895.7 L1725.4,887.2 L1720,878.8 L1714.3,870.7 L1708.4,862.8 L1702.3,855.2 L1696,847.9 L1689.5,840.9 L1682.9,834.3 L1676.1,828.1 L1669.2,822.2 L1662.3,816.8 L1655.3,811.8 L1648.2,807.3 L1641.2,803.2 L1634.1,799.6 L1627.1,796.5 L1620.2,793.9 L1613.3,791.8 L1606.5,790.2 L1599.9,789.2" stroke="#1c1c1c" stroke-width="1.4" fill="none" stroke-linejoin="round" />
<path d="M1606.8,790.3 L1599.9,788.9 L1591.1,787.6 L1584.2,787 L1568.9,786.9 L1562.2,787.5 L1544.3,791.7 L1538.1,794.1 L1722.4,1113.2 L1727.5,1109.1 L1740,1095.6 L1744,1090.1 L1751.6,1076.8 L1754.4,1070.5 L1757.7,1062.2 L1760,1055.6 Z" stroke="none" stroke-width="0" fill="#fff" stroke-linejoin="round" />
<ellipse cx="1621.9" cy="958.4" rx="185" ry="106.8" transform="rotate(60 1621.9 958.4)" stroke="none" stroke-width="0" fill="#fff" />
<path d="M1606.8,790.3 L1599.9,788.9 L1591.1,787.6 L1584.2,787 L1568.9,786.9 L1562.2,787.5 L1544.3,791.7 L1538.1,794.1" stroke="#1c1c1c" stroke-width="1.4" fill="none" stroke-linejoin="round" />
<path d="M1760,1055.6 L1757.7,1062.2 L1754.4,1070.5 L1751.6,1076.8 L1744,1090.1 L1740,1095.6 L1727.5,1109.1 L1722.4,1113.2" stroke="#1c1c1c" stroke-width="1.4" fill="none" stroke-linejoin="round" />
<path d="M1710.1,1120.9 L1717.6,1116.7 L1724.5,1111.4 L1730.7,1105.1 L1736.3,1097.9 L1741,1089.7 L1745,1080.7 L1748.2,1070.9 L1750.5,1060.4 L1752.1,1049.2 L1752.7,1037.4 L1752.5,1025.1 L1751.5,1012.3 L1749.6,999.2 L1746.9,985.9 L1743.4,972.3 L1739,958.7 L1733.9,945 L1728.1,931.5 L1721.6,918.1 L1714.4,905 L1706.7,892.3 L1698.3,879.9 L1689.5,868.1 L1680.3,856.9 L1670.6,846.3 L1660.7,836.5 L1650.4,827.5 L1640,819.3 L1629.5,812 L1619,805.7 L1608.4,800.4 L1597.9,796.1 L1587.6,792.9 L1577.6,790.7 L1567.8,789.7 L1558.3,789.7 L1549.3,790.9 L1540.8,793.1 L1532.7,796.4 L1525.3,800.8" stroke="#1c1c1c" stroke-width="1.4" fill="none" stroke-linejoin="round" />
<path d="M1530.8,797.5 L1488.5,820.5 L1674.6,1143 L1715.8,1117.9 Z" stroke="none" stroke-width="0" fill="#fff" stroke-linejoin="round" />
<ellipse cx="1580.2" cy="982.5" rx="186.2" ry="107.5" transform="rotate(60 1580.2 982.5)" stroke="none" stroke-width="0" fill="#fff" />
<path d="M1530.8,797.5 L1488.5,820.5" stroke="#1c1c1c" stroke-width="1.4" fill="none" stroke-linejoin="round" />
<path d="M1715.8,1117.9 L1674.6,1143" stroke="#1c1c1c" stroke-width="1.4" fill="none" stroke-linejoin="round" />
<ellipse cx="1580.2" cy="982.5" rx="186.2" ry="107.5" transform="rotate(60 1580.2 982.5)" stroke="#1c1c1c" stroke-width="2.2" fill="none" />
<ellipse cx="1580.2" cy="982.5" rx="183" ry="105.7" transform="rotate(60 1580.2 982.5)" stroke="none" stroke-width="0" fill="#fff" />
<path d="M1666.1,1143.9 L1673.7,1139.8 L1680.6,1134.7 L1687,1128.6 L1692.6,1121.5 L1697.4,1113.5 L1701.5,1104.6 L1704.8,1094.9 L1707.2,1084.5 L1708.8,1073.4 L1709.6,1061.7 L1709.4,1049.4 L1708.5,1036.7 L1706.7,1023.7 L1704,1010.4 L1700.5,996.9 L1696.2,983.2 L1691.2,969.6 L1685.4,956.1 L1678.9,942.8 L1671.7,929.7 L1664,917 L1655.6,904.7 L1646.8,892.9 L1637.6,881.7 L1627.9,871.2 L1618,861.4 L1607.8,852.4 L1597.4,844.3 L1586.9,837.1 L1576.3,830.9 L1565.8,825.7 L1555.4,821.5 L1545.1,818.4 L1535.1,816.4 L1525.4,815.5 L1516,815.7 L1507.1,817 L1498.6,819.4 L1490.7,822.9 L1483.4,827.5" stroke="#1c1c1c" stroke-width="1.2" fill="none" stroke-linejoin="round" />
<path d="M1488.7,824 L1464.6,837.9 L1647.6,1154.9 L1671.7,1141 Z" stroke="none" stroke-width="0" fill="#fff" stroke-linejoin="round" />
<ellipse cx="1556.1" cy="996.4" rx="183" ry="105.7" transform="rotate(60 1556.1 996.4)" stroke="none" stroke-width="0" fill="#fff" />
<path d="M1488.7,824 L1464.6,837.9" stroke="#1c1c1c" stroke-width="1.4" fill="none" stroke-linejoin="round" />
<path d="M1671.7,1141 L1647.6,1154.9" stroke="#1c1c1c" stroke-width="1.4" fill="none" stroke-linejoin="round" />
<ellipse cx="1555.5" cy="996.8" rx="189" ry="109.1" transform="rotate(60 1555.5 996.8)" stroke="#1c1c1c" stroke-width="2.2" fill="#fff" />
<path d="M1461,833.1 L1458.2,834.7 L1647.2,1162.1 L1650,1160.4 Z" stroke="none" stroke-width="0" fill="#fff" stroke-linejoin="round" />
<ellipse cx="1552.7" cy="998.4" rx="189" ry="109.1" transform="rotate(60 1552.7 998.4)" stroke="none" stroke-width="0" fill="#fff" />
<path d="M1461,833.1 L1458.2,834.7" stroke="#1c1c1c" stroke-width="1.4" fill="none" stroke-linejoin="round" />
<path d="M1650,1160.4 L1647.2,1162.1" stroke="#1c1c1c" stroke-width="1.4" fill="none" stroke-linejoin="round" />
<path d="M1622.3,1170.3 L1632.3,1168.3 L1641.7,1164.9 L1650.3,1160.1 L1658.2,1154.1 L1665.2,1146.7 L1671.2,1138.1 L1676.3,1128.4 L1680.4,1117.7 L1683.4,1105.9 L1685.4,1093.3 L1686.3,1079.9 L1686.1,1065.8 L1684.8,1051.2 L1682.4,1036.2 L1679,1020.8 L1674.5,1005.3 L1669.1,989.7 L1662.7,974.2 L1655.4,958.8 L1647.2,943.8 L1638.3,929.3 L1628.7,915.3 L1618.4,902 L1607.7,889.4 L1596.4,877.8 L1584.8,867.2 L1573,857.6 L1561,849.2 L1548.9,841.9 L1536.9,836 L1524.9,831.4 L1513.3,828.2 L1501.9,826.3 L1490.9,825.9 L1480.5,826.9 L1470.6,829.2 L1461.4,833 L1453,838.1 L1445.4,844.5 L1438.6,852.2" stroke="#1c1c1c" stroke-width="1.1" fill="none" stroke-linejoin="round" />
<path d="M1443,846.9 L1440.7,849.4 L1625.8,1169.9 L1629,1169.1 Z" stroke="none" stroke-width="0" fill="#fff" stroke-linejoin="round" />
<ellipse cx="1549.9" cy="1000" rx="188" ry="108.5" transform="rotate(60 1549.9 1000)" stroke="none" stroke-width="0" fill="#fff" />
<path d="M1443,846.9 L1440.7,849.4" stroke="#1c1c1c" stroke-width="1.4" fill="none" stroke-linejoin="round" />
<path d="M1629,1169.1 L1625.8,1169.9" stroke="#1c1c1c" stroke-width="1.4" fill="none" stroke-linejoin="round" />
<path d="M1638.1,1165.8 L1645.9,1161.6 L1653.1,1156.4 L1659.5,1150.1 L1665.3,1142.8 L1670.3,1134.6 L1674.5,1125.5 L1677.8,1115.5 L1680.3,1104.8 L1682,1093.4 L1682.8,1081.3 L1682.6,1068.8 L1681.6,1055.7 L1679.8,1042.3 L1677,1028.6 L1673.4,1014.8 L1669,1000.8 L1663.9,986.8 L1657.9,972.9 L1651.2,959.2 L1643.9,945.8 L1635.9,932.7 L1627.4,920 L1618.3,907.9 L1608.8,896.4 L1598.9,885.6 L1588.7,875.6 L1578.2,866.4 L1567.5,858.1 L1556.7,850.7 L1545.9,844.3 L1535.1,838.9 L1524.4,834.6 L1513.8,831.5 L1503.5,829.4 L1493.5,828.5 L1483.9,828.7 L1474.7,830 L1466.1,832.5 L1457.9,836.1 L1450.4,840.8" stroke="#1c1c1c" stroke-width="1.1" fill="none" stroke-linejoin="round" />
<path d="M1455.9,837.2 L1448.8,841.3 L1636.8,1166.9 L1643.9,1162.8 Z" stroke="none" stroke-width="0" fill="#fff" stroke-linejoin="round" />
<ellipse cx="1542.8" cy="1004.1" rx="188" ry="108.5" transform="rotate(60 1542.8 1004.1)" stroke="none" stroke-width="0" fill="#fff" />
<path d="M1455.9,837.2 L1448.8,841.3" stroke="#1c1c1c" stroke-width="1.4" fill="none" stroke-linejoin="round" />
<path d="M1643.9,1162.8 L1636.8,1166.9" stroke="#1c1c1c" stroke-width="1.4" fill="none" stroke-linejoin="round" />
<path d="M1647.2,1159.4 L1652.9,1153.7 L1658,1147.2 L1662.5,1140 L1666.4,1132 L1669.6,1123.3 L1672.2,1114.1 L1674.1,1104.2 L1675.3,1093.8 L1675.7,1083 L1675.5,1071.7 L1674.6,1060.1 L1673,1048.1 L1670.7,1036 L1667.7,1023.7 L1664.1,1011.2 L1659.8,998.8 L1654.9,986.3 L1649.4,974 L1643.4,961.8 L1636.8,949.8 L1629.7,938.2 L1622.2,926.8 L1614.3,915.9 L1605.9,905.5 L1597.3,895.5 L1588.3,886.2 L1579.1,877.4 L1569.8,869.4 L1560.2,862 L1550.6,855.4 L1541,849.6 L1531.3,844.6 L1521.7,840.4 L1512.3,837.1 L1503,834.7 L1493.9,833.1 L1485,832.5 L1476.5,832.8 L1468.3,834 L1460.5,836" stroke="#1c1c1c" stroke-width="1.1" fill="none" stroke-linejoin="round" />
<path d="M1466.9,834.3 L1463.7,835 L1649.7,1157.2 L1651.9,1154.8 Z" stroke="none" stroke-width="0" fill="#fff" stroke-linejoin="round" />
<ellipse cx="1540" cy="1005.7" rx="189" ry="109.1" transform="rotate(60 1540 1005.7)" stroke="none" stroke-width="0" fill="#fff" />
<path d="M1466.9,834.3 L1463.7,835" stroke="#1c1c1c" stroke-width="1.4" fill="none" stroke-linejoin="round" />
<path d="M1651.9,1154.8 L1649.7,1157.2" stroke="#1c1c1c" stroke-width="1.4" fill="none" stroke-linejoin="round" />
<path d="M1628.6,1172.4 L1636.5,1168.2 L1643.7,1162.9 L1650.2,1156.6 L1656,1149.3 L1661,1141 L1665.2,1131.9 L1668.6,1121.9 L1671.1,1111.1 L1672.8,1099.6 L1673.6,1087.5 L1673.4,1074.8 L1672.4,1061.7 L1670.6,1048.3 L1667.8,1034.5 L1664.2,1020.6 L1659.8,1006.5 L1654.6,992.4 L1648.6,978.5 L1641.9,964.7 L1634.5,951.2 L1626.5,938 L1617.9,925.3 L1608.8,913.2 L1599.2,901.6 L1589.3,890.8 L1579,880.7 L1568.4,871.4 L1557.7,863 L1546.9,855.6 L1536,849.2 L1525.1,843.8 L1514.3,839.5 L1503.7,836.3 L1493.4,834.2 L1483.3,833.3 L1473.7,833.5 L1464.4,834.8 L1455.7,837.3 L1447.5,840.9 L1440,845.6" stroke="#1c1c1c" stroke-width="1.1" fill="none" stroke-linejoin="round" />
<path d="M1445.5,842.1 L1442.7,843.7 L1631.7,1171.1 L1634.5,1169.4 Z" stroke="none" stroke-width="0" fill="#fff" stroke-linejoin="round" />
<ellipse cx="1537.2" cy="1007.4" rx="189" ry="109.1" transform="rotate(60 1537.2 1007.4)" stroke="none" stroke-width="0" fill="#fff" />
<path d="M1445.5,842.1 L1442.7,843.7" stroke="#1c1c1c" stroke-width="1.4" fill="none" stroke-linejoin="round" />
<path d="M1634.5,1169.4 L1631.7,1171.1" stroke="#1c1c1c" stroke-width="1.4" fill="none" stroke-linejoin="round" />
<ellipse cx="1537.2" cy="1007.4" rx="189" ry="109.1" transform="rotate(60 1537.2 1007.4)" stroke="#1c1c1c" stroke-width="2.2" fill="none" />
<ellipse cx="1537" cy="1007.5" rx="182" ry="105.1" transform="rotate(60 1537 1007.5)" stroke="#1c1c1c" stroke-width="1.2" fill="#fff" />
<path d="M1446,849.8 L1309.5,928.6 L1491.5,1243.9 L1628,1165.1 Z" stroke="none" stroke-width="0" fill="#fff" stroke-linejoin="round" />
<ellipse cx="1400.5" cy="1086.2" rx="182" ry="105.1" transform="rotate(60 1400.5 1086.2)" stroke="none" stroke-width="0" fill="#fff" />
<path d="M1446,849.8 L1309.5,928.6" stroke="#1c1c1c" stroke-width="1.4" fill="none" stroke-linejoin="round" />
<path d="M1628,1165.1 L1491.5,1243.9" stroke="#1c1c1c" stroke-width="1.4" fill="none" stroke-linejoin="round" />
<path d="M1492.7,1032.5 L1623.6,957" stroke="#111" stroke-width="2.6" fill="none" stroke-linejoin="round" stroke-linecap="round"/>
<path d="M1520.6,1096.4 L1651.4,1020.8" stroke="#111" stroke-width="2.8" fill="none" stroke-linejoin="round" stroke-linecap="round"/>
<path d="M1530.2,1146.6 L1661,1071" stroke="#111" stroke-width="1.7" fill="none" stroke-linejoin="round" stroke-linecap="round"/>
<path d="M1530.6,1160.1 L1661.5,1084.5" stroke="#111" stroke-width="1.9" fill="none" stroke-linejoin="round" stroke-linecap="round"/>
<path d="M1522.2,1207.9 L1653,1132.4" stroke="#111" stroke-width="2.8" fill="none" stroke-linejoin="round" stroke-linecap="round"/>
<path d="M1486,1296.5 L1486,1239.2 L1478.2,1239.3 L1470.3,1238.7 L1462.4,1237.4 L1454.6,1235.5 L1446.7,1232.9 L1438.8,1229.8 L1431,1226.1 L1423.1,1221.8 L1415.2,1217 L1407.4,1211.6 L1399.5,1205.7 L1391.6,1199.2 L1383.8,1192 L1375.9,1184.2 L1368,1175.7 L1360.2,1166.5 L1360.2,1225.5 L1483.2,1296.5 Z" stroke="#1c1c1c" stroke-width="1.5" fill="#fff" stroke-linejoin="round" />
<path d="M1362.3,1221.8 L1483.9,1292" stroke="#1c1c1c" stroke-width="1.2" fill="none" stroke-linejoin="round" />
<path d="M1486,1247.2 L1578,1194.1 L1578,1237.7 L1572.3,1241 L1572.3,1246.7 L1488.9,1294.9 L1486,1294.9 Z" stroke="#1c1c1c" stroke-width="1.6" fill="#fff" stroke-linejoin="round" />
<path d="M1486,1247.2 L1578,1194.1" stroke="#111" stroke-width="2.4" fill="none" stroke-linejoin="round" />
<path d="M1490.3,1285.9 L1572.3,1238.6" stroke="#1c1c1c" stroke-width="1.3" fill="none" stroke-linejoin="round" />
<path d="M1479.7,1293.7 L1479.7,1246.3" stroke="#1c1c1c" stroke-width="1.3" fill="none" stroke-linejoin="round" />
<path d="M1471.9,1290 L1471.9,1245.1" stroke="#1c1c1c" stroke-width="1.2" fill="none" stroke-linejoin="round" />
<path d="M1523.2,1252.6 L1523,1250.4 L1522.5,1248.4 L1521.7,1246.8 L1520.5,1245.5 L1519.1,1244.7 L1517.4,1244.3 L1515.5,1244.4 L1513.6,1244.9 L1511.6,1245.9 L1509.5,1247.2 L1507.6,1249 L1505.7,1251 L1504.1,1253.4 L1502.6,1255.8 L1501.5,1258.4 L1500.6,1261.1 L1500.1,1263.6 L1499.9,1266.1 L1500.1,1268.3 L1500.6,1270.3 L1501.5,1271.9 L1502.6,1273.2 L1504.1,1274 L1505.7,1274.4 L1507.6,1274.3 L1509.5,1273.8 L1511.6,1272.8 L1513.6,1271.4 L1515.5,1269.7 L1517.4,1267.6 L1519.1,1265.3 L1520.5,1262.8 L1521.7,1260.2 L1522.5,1257.6 L1523,1255.1 Z" stroke="#1c1c1c" stroke-width="2.0" fill="none" stroke-linejoin="round" />
<path d="M1520.2,1254.4 L1520.1,1252.7 L1519.7,1251.3 L1519,1250.1 L1518.2,1249.1 L1517.1,1248.5 L1515.9,1248.2 L1514.5,1248.3 L1513.1,1248.7 L1511.6,1249.4 L1510.1,1250.4 L1508.6,1251.7 L1507.2,1253.2 L1506,1254.9 L1504.9,1256.8 L1504.1,1258.7 L1503.5,1260.6 L1503.1,1262.5 L1502.9,1264.3 L1503.1,1266 L1503.5,1267.4 L1504.1,1268.6 L1504.9,1269.6 L1506,1270.2 L1507.2,1270.5 L1508.6,1270.4 L1510.1,1270 L1511.6,1269.3 L1513.1,1268.3 L1514.5,1267 L1515.9,1265.5 L1517.1,1263.8 L1518.2,1261.9 L1519,1260 L1519.7,1258.1 L1520.1,1256.2 Z" stroke="#1c1c1c" stroke-width="1.6" fill="none" stroke-linejoin="round" />
<path d="M1565.3,1226.7 L1565.1,1224.4 L1564.6,1222.5 L1563.7,1220.9 L1562.6,1219.6 L1561.1,1218.8 L1559.5,1218.4 L1557.6,1218.5 L1555.7,1219 L1553.6,1219.9 L1551.6,1221.3 L1549.6,1223.1 L1547.8,1225.1 L1546.1,1227.4 L1544.7,1229.9 L1543.5,1232.5 L1542.7,1235.1 L1542.1,1237.7 L1542,1240.2 L1542.1,1242.4 L1542.7,1244.4 L1543.5,1246 L1544.7,1247.2 L1546.1,1248.1 L1547.8,1248.5 L1549.6,1248.4 L1551.6,1247.9 L1553.6,1246.9 L1555.7,1245.5 L1557.6,1243.8 L1559.5,1241.7 L1561.1,1239.4 L1562.6,1236.9 L1563.7,1234.3 L1564.6,1231.7 L1565.1,1229.1 Z" stroke="#1c1c1c" stroke-width="2.0" fill="none" stroke-linejoin="round" />
<path d="M1562.3,1228.4 L1562.1,1226.8 L1561.7,1225.3 L1561.1,1224.1 L1560.2,1223.2 L1559.2,1222.6 L1557.9,1222.3 L1556.6,1222.4 L1555.1,1222.7 L1553.6,1223.5 L1552.1,1224.5 L1550.7,1225.8 L1549.3,1227.3 L1548.1,1229 L1547,1230.8 L1546.2,1232.8 L1545.5,1234.7 L1545.1,1236.6 L1545,1238.4 L1545.1,1240.1 L1545.5,1241.5 L1546.2,1242.7 L1547,1243.6 L1548.1,1244.3 L1549.3,1244.5 L1550.7,1244.5 L1552.1,1244.1 L1553.6,1243.4 L1555.1,1242.4 L1556.6,1241.1 L1557.9,1239.6 L1559.2,1237.9 L1560.2,1236 L1561.1,1234.1 L1561.7,1232.1 L1562.1,1230.2 Z" stroke="#1c1c1c" stroke-width="1.6" fill="none" stroke-linejoin="round" />
<path d="M1539.5,1248.1 L1542.3,1253 L1546.6,1248.9" stroke="#1c1c1c" stroke-width="2.0" fill="none" stroke-linejoin="round" />
<ellipse cx="1400.3" cy="1086.4" rx="189" ry="109.1" transform="rotate(60 1400.3 1086.4)" stroke="#1c1c1c" stroke-width="2.2" fill="#fff" />
<path d="M1305.8,922.7 L1302.9,924.4 L1491.9,1251.7 L1494.8,1250.1 Z" stroke="none" stroke-width="0" fill="#fff" stroke-linejoin="round" />
<ellipse cx="1397.4" cy="1088" rx="189" ry="109.1" transform="rotate(60 1397.4 1088)" stroke="none" stroke-width="0" fill="#fff" />
<path d="M1305.8,922.7 L1302.9,924.4" stroke="#1c1c1c" stroke-width="1.4" fill="none" stroke-linejoin="round" />
<path d="M1494.8,1250.1 L1491.9,1251.7" stroke="#1c1c1c" stroke-width="1.4" fill="none" stroke-linejoin="round" />
<path d="M1467,1260 L1477,1258 L1486.4,1254.6 L1495,1249.8 L1502.9,1243.7 L1509.9,1236.4 L1515.9,1227.8 L1521,1218.1 L1525.1,1207.3 L1528.2,1195.6 L1530.1,1183 L1531,1169.6 L1530.8,1155.5 L1529.5,1140.9 L1527.2,1125.8 L1523.7,1110.5 L1519.3,1094.9 L1513.8,1079.3 L1507.4,1063.8 L1500.1,1048.5 L1491.9,1033.5 L1483,1018.9 L1473.4,1004.9 L1463.2,991.6 L1452.4,979.1 L1441.1,967.5 L1429.6,956.8 L1417.7,947.2 L1405.7,938.8 L1393.6,931.6 L1381.6,925.7 L1369.7,921.1 L1358,917.8 L1346.6,916 L1335.6,915.5 L1325.2,916.5 L1315.3,918.9 L1306.2,922.6 L1297.7,927.7 L1290.1,934.1 L1283.3,941.8" stroke="#1c1c1c" stroke-width="1.1" fill="none" stroke-linejoin="round" />
<path d="M1287.7,936.6 L1285.5,939 L1470.5,1259.5 L1473.7,1258.8 Z" stroke="none" stroke-width="0" fill="#fff" stroke-linejoin="round" />
<ellipse cx="1394.6" cy="1089.7" rx="188" ry="108.5" transform="rotate(60 1394.6 1089.7)" stroke="none" stroke-width="0" fill="#fff" />
<path d="M1287.7,936.6 L1285.5,939" stroke="#1c1c1c" stroke-width="1.4" fill="none" stroke-linejoin="round" />
<path d="M1473.7,1258.8 L1470.5,1259.5" stroke="#1c1c1c" stroke-width="1.4" fill="none" stroke-linejoin="round" />
<path d="M1482.8,1255.5 L1490.6,1251.3 L1497.8,1246 L1504.3,1239.8 L1510,1232.5 L1515,1224.3 L1519.2,1215.1 L1522.6,1205.2 L1525.1,1194.5 L1526.7,1183 L1527.5,1171 L1527.4,1158.4 L1526.4,1145.4 L1524.5,1132 L1521.8,1118.3 L1518.2,1104.4 L1513.8,1090.4 L1508.6,1076.5 L1502.6,1062.6 L1495.9,1048.8 L1488.6,1035.4 L1480.6,1022.3 L1472.1,1009.7 L1463,997.6 L1453.5,986.1 L1443.6,975.3 L1433.4,965.3 L1422.9,956 L1412.2,947.7 L1401.4,940.3 L1390.6,933.9 L1379.8,928.6 L1369.1,924.3 L1358.6,921.1 L1348.2,919 L1338.3,918.1 L1328.6,918.3 L1319.5,919.7 L1310.8,922.1 L1302.6,925.7 L1295.1,930.4" stroke="#1c1c1c" stroke-width="1.1" fill="none" stroke-linejoin="round" />
<path d="M1300.6,926.9 L1293.5,930.9 L1481.5,1256.6 L1488.6,1252.5 Z" stroke="none" stroke-width="0" fill="#fff" stroke-linejoin="round" />
<ellipse cx="1387.5" cy="1093.8" rx="188" ry="108.5" transform="rotate(60 1387.5 1093.8)" stroke="none" stroke-width="0" fill="#fff" />
<path d="M1300.6,926.9 L1293.5,930.9" stroke="#1c1c1c" stroke-width="1.4" fill="none" stroke-linejoin="round" />
<path d="M1488.6,1252.5 L1481.5,1256.6" stroke="#1c1c1c" stroke-width="1.4" fill="none" stroke-linejoin="round" />
<path d="M1491.9,1249.1 L1497.6,1243.4 L1502.7,1236.9 L1507.2,1229.6 L1511.1,1221.6 L1514.4,1213 L1516.9,1203.7 L1518.8,1193.9 L1520,1183.5 L1520.5,1172.6 L1520.2,1161.3 L1519.3,1149.7 L1517.7,1137.8 L1515.4,1125.6 L1512.4,1113.3 L1508.8,1100.9 L1504.5,1088.4 L1499.6,1076 L1494.2,1063.6 L1488.1,1051.5 L1481.5,1039.5 L1474.5,1027.8 L1466.9,1016.5 L1459,1005.6 L1450.7,995.1 L1442,985.2 L1433,975.8 L1423.9,967.1 L1414.5,959 L1405,951.6 L1395.3,945 L1385.7,939.2 L1376.1,934.2 L1366.5,930 L1357,926.7 L1347.7,924.3 L1338.6,922.8 L1329.7,922.2 L1321.2,922.4 L1313,923.6 L1305.2,925.7" stroke="#1c1c1c" stroke-width="1.1" fill="none" stroke-linejoin="round" />
<path d="M1311.6,923.9 L1308.4,924.6 L1494.4,1246.8 L1496.7,1244.4 Z" stroke="none" stroke-width="0" fill="#fff" stroke-linejoin="round" />
<ellipse cx="1384.7" cy="1095.4" rx="189" ry="109.1" transform="rotate(60 1384.7 1095.4)" stroke="none" stroke-width="0" fill="#fff" />
<path d="M1311.6,923.9 L1308.4,924.6" stroke="#1c1c1c" stroke-width="1.4" fill="none" stroke-linejoin="round" />
<path d="M1496.7,1244.4 L1494.4,1246.8" stroke="#1c1c1c" stroke-width="1.4" fill="none" stroke-linejoin="round" />
<path d="M1473.4,1262 L1481.2,1257.9 L1488.4,1252.6 L1494.9,1246.3 L1500.7,1239 L1505.7,1230.7 L1510,1221.5 L1513.3,1211.5 L1515.9,1200.7 L1517.5,1189.2 L1518.3,1177.1 L1518.2,1164.5 L1517.2,1151.4 L1515.3,1137.9 L1512.5,1124.2 L1508.9,1110.2 L1504.5,1096.2 L1499.3,1082.1 L1493.3,1068.1 L1486.6,1054.3 L1479.2,1040.8 L1471.2,1027.7 L1462.6,1015 L1453.5,1002.8 L1443.9,991.3 L1434,980.4 L1423.7,970.3 L1413.2,961 L1402.4,952.7 L1391.6,945.3 L1380.7,938.8 L1369.8,933.4 L1359.1,929.1 L1348.5,925.9 L1338.1,923.9 L1328.1,922.9 L1318.4,923.1 L1309.2,924.5 L1300.4,927 L1292.3,930.6 L1284.7,935.3" stroke="#1c1c1c" stroke-width="1.1" fill="none" stroke-linejoin="round" />
<path d="M1290.2,931.7 L1287.4,933.3 L1476.4,1260.7 L1479.2,1259.1 Z" stroke="none" stroke-width="0" fill="#fff" stroke-linejoin="round" />
<ellipse cx="1381.9" cy="1097" rx="189" ry="109.1" transform="rotate(60 1381.9 1097)" stroke="none" stroke-width="0" fill="#fff" />
<path d="M1290.2,931.7 L1287.4,933.3" stroke="#1c1c1c" stroke-width="1.4" fill="none" stroke-linejoin="round" />
<path d="M1479.2,1259.1 L1476.4,1260.7" stroke="#1c1c1c" stroke-width="1.4" fill="none" stroke-linejoin="round" />
<ellipse cx="1381.9" cy="1097" rx="189" ry="109.1" transform="rotate(60 1381.9 1097)" stroke="#1c1c1c" stroke-width="2.2" fill="none" />
<path d="M1290.4,938.5 L1265.6,952.9 L1448.6,1269.8 L1473.4,1255.5 Z" stroke="none" stroke-width="0" fill="#fff" stroke-linejoin="round" />
<ellipse cx="1357.1" cy="1111.4" rx="183" ry="105.7" transform="rotate(60 1357.1 1111.4)" stroke="none" stroke-width="0" fill="#fff" />
<path d="M1290.4,938.5 L1265.6,952.9" stroke="#1c1c1c" stroke-width="1.4" fill="none" stroke-linejoin="round" />
<path d="M1473.4,1255.5 L1448.6,1269.8" stroke="#1c1c1c" stroke-width="1.4" fill="none" stroke-linejoin="round" />
<ellipse cx="1357.1" cy="1111.4" rx="186.2" ry="107.5" transform="rotate(60 1357.1 1111.4)" stroke="none" stroke-width="0" fill="#fff" />
<path d="M1443,1276.2 L1450.9,1272.2 L1458.1,1267.1 L1464.7,1261 L1470.6,1253.9 L1475.7,1245.8 L1480,1236.8 L1483.4,1226.9 L1486,1216.3 L1487.8,1205 L1488.6,1193 L1488.6,1180.5 L1487.7,1167.5 L1485.8,1154.1 L1483.2,1140.4 L1479.6,1126.6 L1475.2,1112.6 L1470.1,1098.6 L1464.1,1084.7 L1457.5,1071 L1450.2,1057.6 L1442.2,1044.5 L1433.6,1031.9 L1424.6,1019.8 L1415.1,1008.4 L1405.2,997.6 L1394.9,987.6 L1384.4,978.5 L1373.8,970.2 L1363,962.9 L1352.2,956.6 L1341.4,951.3 L1330.7,947.2 L1320.2,944.1 L1309.9,942.2 L1300,941.4 L1290.4,941.8 L1281.3,943.3 L1272.7,945.9 L1264.7,949.7 L1257.3,954.5" stroke="#1c1c1c" stroke-width="1.4" fill="none" stroke-linejoin="round" />
<path d="M1262.6,950.9 L1221.9,975.8 L1406.8,1296.2 L1448.8,1273.4 Z" stroke="none" stroke-width="0" fill="#fff" stroke-linejoin="round" />
<ellipse cx="1315.7" cy="1135.2" rx="185" ry="106.8" transform="rotate(60 1315.7 1135.2)" stroke="none" stroke-width="0" fill="#fff" />
<path d="M1262.6,950.9 L1221.9,975.8" stroke="#1c1c1c" stroke-width="1.4" fill="none" stroke-linejoin="round" />
<path d="M1448.8,1273.4 L1406.8,1296.2" stroke="#1c1c1c" stroke-width="1.4" fill="none" stroke-linejoin="round" />
<path d="M1393.5,1301.6 L1402.2,1298.5 L1410.3,1294.2 L1417.7,1288.7 L1424.4,1282 L1430.2,1274.3 L1435.2,1265.6 L1439.4,1255.9 L1442.6,1245.3 L1444.8,1233.9 L1446.1,1221.8 L1446.5,1209 L1445.9,1195.7 L1444.3,1181.9 L1441.8,1167.8 L1438.3,1153.5 L1434,1139 L1428.7,1124.5 L1422.7,1110 L1415.8,1095.8 L1408.2,1081.8 L1399.9,1068.3 L1391,1055.2 L1381.5,1042.7 L1371.6,1030.9 L1361.2,1019.9 L1350.5,1009.8 L1339.6,1000.5 L1328.4,992.3 L1317.2,985.1 L1306,979 L1294.8,974.1 L1283.8,970.3 L1273,967.8 L1262.6,966.5 L1252.5,966.5 L1242.9,967.7 L1233.8,970.2 L1225.4,973.8 L1217.6,978.7 L1210.5,984.7" stroke="#1c1c1c" stroke-width="1.4" fill="none" stroke-linejoin="round" />
<path d="M1215.4,980.4 L1210.2,984.6 L1197.7,997.8 L1193.7,1003.3 L1186.2,1016.4 L1183.2,1022.7 L1179.9,1030.8 L1177.6,1037.5 L1331.3,1303.7 L1338.2,1305 L1346.9,1306.2 L1353.9,1306.8 L1369,1306.8 L1375.8,1306.1 L1393.4,1302 L1399.6,1299.6 Z" stroke="none" stroke-width="0" fill="#fff" stroke-linejoin="round" />
<ellipse cx="1292.6" cy="1148.5" rx="171.6" ry="99.1" transform="rotate(60 1292.6 1148.5)" stroke="none" stroke-width="0" fill="#fff" />
<path d="M1215.4,980.4 L1210.2,984.6 L1197.7,997.8 L1193.7,1003.3 L1186.2,1016.4 L1183.2,1022.7 L1179.9,1030.8 L1177.6,1037.5" stroke="#1c1c1c" stroke-width="1.4" fill="none" stroke-linejoin="round" />
<path d="M1399.6,1299.6 L1393.4,1302 L1375.8,1306.1 L1369,1306.8 L1353.9,1306.8 L1346.9,1306.2 L1338.2,1305 L1331.3,1303.7" stroke="#1c1c1c" stroke-width="1.4" fill="none" stroke-linejoin="round" />
<path d="M1297.1,1291.1 L1311.1,1297.7 L1324.8,1302.2 L1338.1,1304.7 L1350.8,1305.1 L1362.8,1303.4 L1373.8,1299.6 L1383.7,1293.7 L1392.3,1286 L1399.7,1276.3 L1405.6,1265 L1409.9,1252.1 L1412.7,1237.8 L1413.9,1222.3 L1413.5,1205.8 L1411.4,1188.5 L1407.8,1170.7 L1402.6,1152.7 L1395.9,1134.5 L1387.8,1116.5 L1378.4,1099 L1367.9,1082.1 L1356.4,1066.2 L1344,1051.3 L1331,1037.7 L1317.4,1025.7 L1303.5,1015.3 L1289.4,1006.6 L1275.4,999.9 L1261.6,995.2 L1248.3,992.5 L1235.5,992 L1223.5,993.5 L1212.4,997.1 L1202.4,1002.8 L1193.6,1010.4 L1186.2,1019.9 L1180.2,1031.1 L1175.6,1043.8 L1172.7,1058 L1171.4,1073.4" stroke="#1c1c1c" stroke-width="1.4" fill="none" stroke-linejoin="round" />
<path d="M1171.9,1065.3 L1167.8,1111.3 L1262.4,1275.3 L1304.3,1294.8 Z" stroke="none" stroke-width="0" fill="#fff" stroke-linejoin="round" />
<ellipse cx="1254.1" cy="1170.8" rx="122.6" ry="70.8" transform="rotate(60 1254.1 1170.8)" stroke="none" stroke-width="0" fill="#fff" />
<path d="M1171.9,1065.3 L1167.8,1111.3" stroke="#1c1c1c" stroke-width="1.4" fill="none" stroke-linejoin="round" />
<path d="M1304.3,1294.8 L1262.4,1275.3" stroke="#1c1c1c" stroke-width="1.4" fill="none" stroke-linejoin="round" />
<path d="M1283,1281.9 L1291.1,1282.7 L1298.8,1282.4 L1306.1,1280.9 L1312.8,1278.4 L1318.9,1274.7 L1324.4,1270 L1329.1,1264.3 L1333.1,1257.6 L1336.3,1250.1 L1338.7,1241.7 L1340.1,1232.6 L1340.8,1222.9 L1340.5,1212.7 L1339.4,1202 L1337.4,1191.1 L1334.5,1179.9 L1330.9,1168.6 L1326.4,1157.4 L1321.3,1146.3 L1315.4,1135.4 L1308.9,1124.9 L1301.9,1114.9 L1294.4,1105.4 L1286.4,1096.6 L1278.2,1088.5 L1269.7,1081.3 L1261,1075 L1252.3,1069.7 L1243.6,1065.4 L1235,1062.1 L1226.6,1060 L1218.4,1059 L1210.7,1059.1 L1203.3,1060.3 L1196.5,1062.7 L1190.3,1066.2 L1184.7,1070.7 L1179.8,1076.3 L1175.7,1082.8 L1172.4,1090.2" stroke="#1c1c1c" stroke-width="1.4" fill="none" stroke-linejoin="round" />
<path d="M1174.3,1085.7 L1171.4,1091.8 L1173.5,1087.7 L1170.2,1093.6 L1174.6,1087.2 L1170.4,1092.3 L1177,1085.8 L1171.9,1089.8 L1283.2,1282.5 L1289.1,1280 L1280.3,1282.6 L1286.8,1281.5 L1279,1282.1 L1285.8,1282.1 L1281.1,1281.9 L1287.9,1282.5 Z" stroke="none" stroke-width="0" fill="#fff" stroke-linejoin="round" />
<ellipse cx="1231.7" cy="1183.7" rx="111.6" ry="64.4" transform="rotate(60 1231.7 1183.7)" stroke="none" stroke-width="0" fill="#fff" />
<path d="M1174.3,1085.7 L1171.4,1091.8 L1173.5,1087.7 L1170.2,1093.6 L1174.6,1087.2 L1170.4,1092.3 L1177,1085.8 L1171.9,1089.8" stroke="#1c1c1c" stroke-width="1.4" fill="none" stroke-linejoin="round" />
<path d="M1287.9,1282.5 L1281.1,1281.9 L1285.8,1282.1 L1279,1282.1 L1286.8,1281.5 L1280.3,1282.6 L1289.1,1280 L1283.2,1282.5" stroke="#1c1c1c" stroke-width="1.4" fill="none" stroke-linejoin="round" />
<path d="M1284,1282.1 L1288.7,1279.7 L1292.9,1276.6 L1296.8,1272.8 L1300.2,1268.5 L1303.2,1263.6 L1305.6,1258.2 L1307.6,1252.3 L1309.1,1245.9 L1310.1,1239.2 L1310.6,1232 L1310.5,1224.5 L1309.9,1216.8 L1308.8,1208.8 L1307.2,1200.7 L1305,1192.5 L1302.4,1184.2 L1299.3,1175.9 L1295.8,1167.6 L1291.8,1159.5 L1287.5,1151.5 L1282.8,1143.8 L1277.7,1136.3 L1272.3,1129.1 L1266.7,1122.3 L1260.8,1115.8 L1254.7,1109.9 L1248.5,1104.4 L1242.2,1099.5 L1235.7,1095.1 L1229.3,1091.3 L1222.9,1088.1 L1216.5,1085.6 L1210.3,1083.7 L1204.2,1082.4 L1198.2,1081.9 L1192.5,1082 L1187.1,1082.8 L1181.9,1084.3 L1177.1,1086.4 L1172.6,1089.2" stroke="#1c1c1c" stroke-width="1.4" fill="none" stroke-linejoin="round" />
<path d="M1175.9,1087.1 L1151.7,1101.1 L1263.3,1294.3 L1287.5,1280.4 Z" stroke="none" stroke-width="0" fill="#fff" stroke-linejoin="round" />
<ellipse cx="1207.5" cy="1197.7" rx="111.6" ry="64.4" transform="rotate(60 1207.5 1197.7)" stroke="none" stroke-width="0" fill="#fff" />
<path d="M1175.9,1087.1 L1151.7,1101.1" stroke="#1c1c1c" stroke-width="1.4" fill="none" stroke-linejoin="round" />
<path d="M1287.5,1280.4 L1263.3,1294.3" stroke="#1c1c1c" stroke-width="1.4" fill="none" stroke-linejoin="round" />
<ellipse cx="1207.5" cy="1197.7" rx="111.6" ry="64.4" transform="rotate(60 1207.5 1197.7)" stroke="#1c1c1c" stroke-width="1.5" fill="none" />
<clipPath id="fo"><ellipse cx="1207.5" cy="1197.7" rx="111" ry="64.1" transform="rotate(60 1207.5 1197.7)"/></clipPath>
<g clip-path="url(#fo)">
<ellipse cx="1232.2" cy="1183.4" rx="111.6" ry="64.4" transform="rotate(60 1232.2 1183.4)" stroke="#1c1c1c" stroke-width="1.4" fill="none" />
<ellipse cx="1251.7" cy="1172.2" rx="111.6" ry="64.4" transform="rotate(60 1251.7 1172.2)" stroke="#1c1c1c" stroke-width="1.4" fill="none" />
<ellipse cx="1271.1" cy="1161" rx="111.6" ry="64.4" transform="rotate(60 1271.1 1161)" stroke="#1c1c1c" stroke-width="1.4" fill="none" />
</g>
<path d="M1292.4,905.2 L1286.2,905.2 L1278.1,912.7 L1282.5,920.8 L1294.9,927.7" stroke="#1c1c1c" stroke-width="2.0" fill="none" stroke-linejoin="round" />
<path d="M1288.7,910.2 L1290.6,918.3 L1293.1,918" stroke="#1c1c1c" stroke-width="1.8" fill="none" stroke-linejoin="round" />
<path d="M1292.4,883.3 L1326.4,902.9 L1325,917.6 L1294.9,927.7 L1292.4,917.6 Z" stroke="#1c1c1c" stroke-width="1.9" fill="#fff" stroke-linejoin="round" />
<path d="M1329.2,907.8 L1327.8,916 L1299.5,925.8" stroke="#1c1c1c" stroke-width="1.7" fill="none" stroke-linejoin="round" />
<path d="M1326.4,902.9 L1469.2,985.4 L1469.2,1013.9 L1459.3,1008.2 L1459.3,986.2 L1325.7,909 Z" stroke="#1c1c1c" stroke-width="1.8" fill="#fff" stroke-linejoin="round" />
<path d="M1355.4,925.4 L1368.1,932.7 L1368.1,936.8 L1355.4,929.4 Z" stroke="#1c1c1c" stroke-width="1.2" fill="#fff" stroke-linejoin="round" />
<path d="M1375.2,936.8 L1387.9,944.1 L1387.9,948.2 L1375.2,940.9 Z" stroke="#1c1c1c" stroke-width="1.2" fill="#fff" stroke-linejoin="round" />
<path d="M1395,948.2 L1407.7,955.6 L1407.7,959.6 L1395,952.3 Z" stroke="#1c1c1c" stroke-width="1.2" fill="#fff" stroke-linejoin="round" />
<path d="M1469.2,985.4 L1642.7,885.2 L1642.7,913.8 L1623.6,924.8 L1623.6,906 L1479.1,989.5 L1479.1,1008.2 L1469.2,1013.9 Z" stroke="#1c1c1c" stroke-width="1.8" fill="#fff" stroke-linejoin="round" />
<path d="M1479.1,991.9 L1623.6,908.5 L1626.5,904.4" stroke="#1c1c1c" stroke-width="1.2" fill="none" stroke-linejoin="round" />
<path d="M1479.1,984.6 L1627.9,898.7 L1627.9,913.4" stroke="#6e6e6e" stroke-width="1.1" fill="none" stroke-linejoin="round" />
<path d="M1317.2,901.7 L1469.2,989.5" stroke="none" stroke-width="0" fill="none" stroke-linejoin="round" />
<path d="M1292.4,883.3 L1465.9,783.1 L1642.7,885.2 L1469.2,985.4 Z" stroke="#1c1c1c" stroke-width="1.8" fill="#fff" stroke-linejoin="round" />
<clipPath id="pk2"><path d="M1297.5,883.1 L1308.3,876.8 L1367.7,911.1 L1356.9,917.4 Z"/></clipPath>
<path d="M1297.5,883.1 L1308.3,876.8 L1367.7,911.1 L1356.9,917.4 Z" stroke="#1c1c1c" stroke-width="1.5" fill="#fff" stroke-linejoin="round" />
<g clip-path="url(#pk2)">
<path d="M1304.5,894.5 L1308.3,892.4 L1360.6,922.6 L1356.9,924.7 Z" stroke="#1c1c1c" stroke-width="1.5" fill="none" stroke-linejoin="round" />
<path d="M1308.3,876.8 L1308.3,892.4" stroke="#1c1c1c" stroke-width="1.2" fill="none" stroke-linejoin="round" />
<path d="M1297.5,883.1 L1304.5,894.5" stroke="#1c1c1c" stroke-width="1.0" fill="none" stroke-linejoin="round" />
<path d="M1367.7,911.1 L1360.6,922.6" stroke="#1c1c1c" stroke-width="1.0" fill="none" stroke-linejoin="round" />
</g>
<clipPath id="pk3"><path d="M1454.4,792.5 L1465.3,786.2 L1524.7,820.5 L1513.8,826.8 Z"/></clipPath>
<path d="M1454.4,792.5 L1465.3,786.2 L1524.7,820.5 L1513.8,826.8 Z" stroke="#1c1c1c" stroke-width="1.5" fill="#fff" stroke-linejoin="round" />
<g clip-path="url(#pk3)">
<path d="M1461.5,803.9 L1465.3,801.7 L1517.6,831.9 L1513.8,834.1 Z" stroke="#1c1c1c" stroke-width="1.5" fill="none" stroke-linejoin="round" />
<path d="M1465.3,786.2 L1465.3,801.7" stroke="#1c1c1c" stroke-width="1.2" fill="none" stroke-linejoin="round" />
<path d="M1454.4,792.5 L1461.5,803.9" stroke="#1c1c1c" stroke-width="1.0" fill="none" stroke-linejoin="round" />
<path d="M1524.7,820.5 L1517.6,831.9" stroke="#1c1c1c" stroke-width="1.0" fill="none" stroke-linejoin="round" />
</g>
<clipPath id="pk4"><path d="M1359.5,918.9 L1370.3,912.6 L1392.1,925.2 L1381.3,931.5 Z"/></clipPath>
<path d="M1359.5,918.9 L1370.3,912.6 L1392.1,925.2 L1381.3,931.5 Z" stroke="#1c1c1c" stroke-width="1.5" fill="#fff" stroke-linejoin="round" />
<g clip-path="url(#pk4)">
<path d="M1366.6,930.3 L1370.3,928.2 L1385,936.6 L1381.3,938.8 Z" stroke="#1c1c1c" stroke-width="1.5" fill="none" stroke-linejoin="round" />
<path d="M1370.3,912.6 L1370.3,928.2" stroke="#1c1c1c" stroke-width="1.2" fill="none" stroke-linejoin="round" />
<path d="M1359.5,918.9 L1366.6,930.3" stroke="#1c1c1c" stroke-width="1.0" fill="none" stroke-linejoin="round" />
<path d="M1392.1,925.2 L1385,936.6" stroke="#1c1c1c" stroke-width="1.0" fill="none" stroke-linejoin="round" />
</g>
<clipPath id="pk5"><path d="M1516.4,828.3 L1527.3,822 L1549.1,834.6 L1538.2,840.9 Z"/></clipPath>
<path d="M1516.4,828.3 L1527.3,822 L1549.1,834.6 L1538.2,840.9 Z" stroke="#1c1c1c" stroke-width="1.5" fill="#fff" stroke-linejoin="round" />
<g clip-path="url(#pk5)">
<path d="M1523.5,839.7 L1527.3,837.5 L1542,846 L1538.2,848.2 Z" stroke="#1c1c1c" stroke-width="1.5" fill="none" stroke-linejoin="round" />
<path d="M1527.3,822 L1527.3,837.5" stroke="#1c1c1c" stroke-width="1.2" fill="none" stroke-linejoin="round" />
<path d="M1516.4,828.3 L1523.5,839.7" stroke="#1c1c1c" stroke-width="1.0" fill="none" stroke-linejoin="round" />
<path d="M1549.1,834.6 L1542,846" stroke="#1c1c1c" stroke-width="1.0" fill="none" stroke-linejoin="round" />
</g>
<clipPath id="pk6"><path d="M1384.9,933.6 L1395.7,927.3 L1417.2,939.7 L1406.4,946 Z"/></clipPath>
<path d="M1384.9,933.6 L1395.7,927.3 L1417.2,939.7 L1406.4,946 Z" stroke="#1c1c1c" stroke-width="1.5" fill="#fff" stroke-linejoin="round" />
<g clip-path="url(#pk6)">
<path d="M1391.9,945 L1395.7,942.8 L1410.1,951.1 L1406.4,953.3 Z" stroke="#1c1c1c" stroke-width="1.5" fill="none" stroke-linejoin="round" />
<path d="M1395.7,927.3 L1395.7,942.8" stroke="#1c1c1c" stroke-width="1.2" fill="none" stroke-linejoin="round" />
<path d="M1384.9,933.6 L1391.9,945" stroke="#1c1c1c" stroke-width="1.0" fill="none" stroke-linejoin="round" />
<path d="M1417.2,939.7 L1410.1,951.1" stroke="#1c1c1c" stroke-width="1.0" fill="none" stroke-linejoin="round" />
</g>
<clipPath id="pk7"><path d="M1541.8,843 L1552.7,836.7 L1574.2,849.1 L1563.3,855.4 Z"/></clipPath>
<path d="M1541.8,843 L1552.7,836.7 L1574.2,849.1 L1563.3,855.4 Z" stroke="#1c1c1c" stroke-width="1.5" fill="#fff" stroke-linejoin="round" />
<g clip-path="url(#pk7)">
<path d="M1548.9,854.4 L1552.7,852.2 L1567.1,860.5 L1563.3,862.7 Z" stroke="#1c1c1c" stroke-width="1.5" fill="none" stroke-linejoin="round" />
<path d="M1552.7,836.7 L1552.7,852.2" stroke="#1c1c1c" stroke-width="1.2" fill="none" stroke-linejoin="round" />
<path d="M1541.8,843 L1548.9,854.4" stroke="#1c1c1c" stroke-width="1.0" fill="none" stroke-linejoin="round" />
<path d="M1574.2,849.1 L1567.1,860.5" stroke="#1c1c1c" stroke-width="1.0" fill="none" stroke-linejoin="round" />
</g>
<clipPath id="pk8"><path d="M1409,947.5 L1419.9,941.3 L1479.4,975.6 L1468.6,981.9 Z"/></clipPath>
<path d="M1409,947.5 L1419.9,941.3 L1479.4,975.6 L1468.6,981.9 Z" stroke="#1c1c1c" stroke-width="1.5" fill="#fff" stroke-linejoin="round" />
<g clip-path="url(#pk8)">
<path d="M1416.1,958.9 L1419.9,956.8 L1472.3,987.1 L1468.6,989.2 Z" stroke="#1c1c1c" stroke-width="1.5" fill="none" stroke-linejoin="round" />
<path d="M1419.9,941.3 L1419.9,956.8" stroke="#1c1c1c" stroke-width="1.2" fill="none" stroke-linejoin="round" />
<path d="M1409,947.5 L1416.1,958.9" stroke="#1c1c1c" stroke-width="1.0" fill="none" stroke-linejoin="round" />
<path d="M1479.4,975.6 L1472.3,987.1" stroke="#1c1c1c" stroke-width="1.0" fill="none" stroke-linejoin="round" />
</g>
<clipPath id="pk9"><path d="M1566,856.9 L1576.9,850.6 L1636.4,885 L1625.5,891.3 Z"/></clipPath>
<path d="M1566,856.9 L1576.9,850.6 L1636.4,885 L1625.5,891.3 Z" stroke="#1c1c1c" stroke-width="1.5" fill="#fff" stroke-linejoin="round" />
<g clip-path="url(#pk9)">
<path d="M1573,868.3 L1576.9,866.1 L1629.3,896.4 L1625.5,898.6 Z" stroke="#1c1c1c" stroke-width="1.5" fill="none" stroke-linejoin="round" />
<path d="M1576.9,850.6 L1576.9,866.1" stroke="#1c1c1c" stroke-width="1.2" fill="none" stroke-linejoin="round" />
<path d="M1566,856.9 L1573,868.3" stroke="#1c1c1c" stroke-width="1.0" fill="none" stroke-linejoin="round" />
<path d="M1636.4,885 L1629.3,896.4" stroke="#1c1c1c" stroke-width="1.0" fill="none" stroke-linejoin="round" />
</g>
<clipPath id="pk10"><path d="M1314.1,874.8 L1339.1,860.4 L1357.7,871.2 L1332.8,885.6 Z"/></clipPath>
<path d="M1314.1,874.8 L1339.1,860.4 L1357.7,871.2 L1332.8,885.6 Z" stroke="#1c1c1c" stroke-width="2.2" fill="#fff" stroke-linejoin="round" />
<g clip-path="url(#pk10)">
<path d="M1321.2,891.1 L1339.1,880.8 L1350.7,887.5 L1332.8,897.8 Z" stroke="#1c1c1c" stroke-width="1.5" fill="none" stroke-linejoin="round" />
<path d="M1339.1,860.4 L1339.1,880.8" stroke="#1c1c1c" stroke-width="1.2" fill="none" stroke-linejoin="round" />
<path d="M1314.1,874.8 L1321.2,891.1" stroke="#1c1c1c" stroke-width="1.0" fill="none" stroke-linejoin="round" />
<path d="M1357.7,871.2 L1350.7,887.5" stroke="#1c1c1c" stroke-width="1.0" fill="none" stroke-linejoin="round" />
</g>
<clipPath id="pk11"><path d="M1335.1,886.9 L1360,872.5 L1398.8,894.9 L1373.9,909.3 Z"/></clipPath>
<path d="M1335.1,886.9 L1360,872.5 L1398.8,894.9 L1373.9,909.3 Z" stroke="#1c1c1c" stroke-width="2.2" fill="#fff" stroke-linejoin="round" />
<g clip-path="url(#pk11)">
<path d="M1342.1,903.2 L1360,892.9 L1391.8,911.2 L1373.9,921.5 Z" stroke="#1c1c1c" stroke-width="1.5" fill="none" stroke-linejoin="round" />
<path d="M1360,872.5 L1360,892.9" stroke="#1c1c1c" stroke-width="1.2" fill="none" stroke-linejoin="round" />
<path d="M1335.1,886.9 L1342.1,903.2" stroke="#1c1c1c" stroke-width="1.0" fill="none" stroke-linejoin="round" />
<path d="M1398.8,894.9 L1391.8,911.2" stroke="#1c1c1c" stroke-width="1.0" fill="none" stroke-linejoin="round" />
</g>
<clipPath id="pk12"><path d="M1341.4,859.1 L1381,836.1 L1399.7,846.9 L1360,869.8 Z"/></clipPath>
<path d="M1341.4,859.1 L1381,836.1 L1399.7,846.9 L1360,869.8 Z" stroke="#1c1c1c" stroke-width="2.2" fill="#fff" stroke-linejoin="round" />
<g clip-path="url(#pk12)">
<path d="M1348.4,875.4 L1381,856.6 L1392.6,863.2 L1360,882.1 Z" stroke="#1c1c1c" stroke-width="1.5" fill="none" stroke-linejoin="round" />
<path d="M1381,836.1 L1381,856.6" stroke="#1c1c1c" stroke-width="1.2" fill="none" stroke-linejoin="round" />
<path d="M1341.4,859.1 L1348.4,875.4" stroke="#1c1c1c" stroke-width="1.0" fill="none" stroke-linejoin="round" />
<path d="M1399.7,846.9 L1392.6,863.2" stroke="#1c1c1c" stroke-width="1.0" fill="none" stroke-linejoin="round" />
</g>
<clipPath id="pk13"><path d="M1362.3,871.1 L1402,848.2 L1440.8,870.6 L1401.1,893.6 Z"/></clipPath>
<path d="M1362.3,871.1 L1402,848.2 L1440.8,870.6 L1401.1,893.6 Z" stroke="#1c1c1c" stroke-width="2.2" fill="#fff" stroke-linejoin="round" />
<g clip-path="url(#pk13)">
<path d="M1369.4,887.5 L1402,868.6 L1433.7,887 L1401.1,905.8 Z" stroke="#1c1c1c" stroke-width="1.5" fill="none" stroke-linejoin="round" />
<path d="M1402,848.2 L1402,868.6" stroke="#1c1c1c" stroke-width="1.2" fill="none" stroke-linejoin="round" />
<path d="M1362.3,871.1 L1369.4,887.5" stroke="#1c1c1c" stroke-width="1.0" fill="none" stroke-linejoin="round" />
<path d="M1440.8,870.6 L1433.7,887" stroke="#1c1c1c" stroke-width="1.0" fill="none" stroke-linejoin="round" />
</g>
<clipPath id="pk14"><path d="M1383.3,834.8 L1423,811.9 L1441.6,822.7 L1402,845.6 Z"/></clipPath>
<path d="M1383.3,834.8 L1423,811.9 L1441.6,822.7 L1402,845.6 Z" stroke="#1c1c1c" stroke-width="2.2" fill="#fff" stroke-linejoin="round" />
<g clip-path="url(#pk14)">
<path d="M1390.4,851.2 L1423,832.4 L1434.5,839.1 L1402,857.8 Z" stroke="#1c1c1c" stroke-width="1.5" fill="none" stroke-linejoin="round" />
<path d="M1423,811.9 L1423,832.4" stroke="#1c1c1c" stroke-width="1.2" fill="none" stroke-linejoin="round" />
<path d="M1383.3,834.8 L1390.4,851.2" stroke="#1c1c1c" stroke-width="1.0" fill="none" stroke-linejoin="round" />
<path d="M1441.6,822.7 L1434.5,839.1" stroke="#1c1c1c" stroke-width="1.0" fill="none" stroke-linejoin="round" />
</g>
<clipPath id="pk15"><path d="M1404.3,846.9 L1443.9,824 L1482.7,846.4 L1443.1,869.3 Z"/></clipPath>
<path d="M1404.3,846.9 L1443.9,824 L1482.7,846.4 L1443.1,869.3 Z" stroke="#1c1c1c" stroke-width="2.2" fill="#fff" stroke-linejoin="round" />
<g clip-path="url(#pk15)">
<path d="M1411.3,863.2 L1443.9,844.4 L1475.6,862.8 L1443.1,881.6 Z" stroke="#1c1c1c" stroke-width="1.5" fill="none" stroke-linejoin="round" />
<path d="M1443.9,824 L1443.9,844.4" stroke="#1c1c1c" stroke-width="1.2" fill="none" stroke-linejoin="round" />
<path d="M1404.3,846.9 L1411.3,863.2" stroke="#1c1c1c" stroke-width="1.0" fill="none" stroke-linejoin="round" />
<path d="M1482.7,846.4 L1475.6,862.8" stroke="#1c1c1c" stroke-width="1.0" fill="none" stroke-linejoin="round" />
</g>
<clipPath id="pk16"><path d="M1425.2,810.6 L1450.1,796.3 L1468.8,807.1 L1443.9,821.4 Z"/></clipPath>
<path d="M1425.2,810.6 L1450.1,796.3 L1468.8,807.1 L1443.9,821.4 Z" stroke="#1c1c1c" stroke-width="2.2" fill="#fff" stroke-linejoin="round" />
<g clip-path="url(#pk16)">
<path d="M1432.3,827 L1450.1,816.7 L1461.7,823.4 L1443.9,833.7 Z" stroke="#1c1c1c" stroke-width="1.5" fill="none" stroke-linejoin="round" />
<path d="M1450.1,796.3 L1450.1,816.7" stroke="#1c1c1c" stroke-width="1.2" fill="none" stroke-linejoin="round" />
<path d="M1425.2,810.6 L1432.3,827" stroke="#1c1c1c" stroke-width="1.0" fill="none" stroke-linejoin="round" />
<path d="M1468.8,807.1 L1461.7,823.4" stroke="#1c1c1c" stroke-width="1.0" fill="none" stroke-linejoin="round" />
</g>
<clipPath id="pk17"><path d="M1446.2,822.7 L1471,808.4 L1509.9,830.8 L1485,845.1 Z"/></clipPath>
<path d="M1446.2,822.7 L1471,808.4 L1509.9,830.8 L1485,845.1 Z" stroke="#1c1c1c" stroke-width="2.2" fill="#fff" stroke-linejoin="round" />
<g clip-path="url(#pk17)">
<path d="M1453.2,839 L1471,828.8 L1502.8,847.1 L1485,857.4 Z" stroke="#1c1c1c" stroke-width="1.5" fill="none" stroke-linejoin="round" />
<path d="M1471,808.4 L1471,828.8" stroke="#1c1c1c" stroke-width="1.2" fill="none" stroke-linejoin="round" />
<path d="M1446.2,822.7 L1453.2,839" stroke="#1c1c1c" stroke-width="1.0" fill="none" stroke-linejoin="round" />
<path d="M1509.9,830.8 L1502.8,847.1" stroke="#1c1c1c" stroke-width="1.0" fill="none" stroke-linejoin="round" />
</g>
<clipPath id="pk18"><path d="M1422.9,937.6 L1447.8,923.2 L1487.3,945.9 L1462.3,960.3 Z"/></clipPath>
<path d="M1422.9,937.6 L1447.8,923.2 L1487.3,945.9 L1462.3,960.3 Z" stroke="#1c1c1c" stroke-width="2.2" fill="#fff" stroke-linejoin="round" />
<g clip-path="url(#pk18)">
<path d="M1430,953.9 L1447.8,943.6 L1480.2,962.3 L1462.3,972.6 Z" stroke="#1c1c1c" stroke-width="1.5" fill="none" stroke-linejoin="round" />
<path d="M1447.8,923.2 L1447.8,943.6" stroke="#1c1c1c" stroke-width="1.2" fill="none" stroke-linejoin="round" />
<path d="M1422.9,937.6 L1430,953.9" stroke="#1c1c1c" stroke-width="1.0" fill="none" stroke-linejoin="round" />
<path d="M1487.3,945.9 L1480.2,962.3" stroke="#1c1c1c" stroke-width="1.0" fill="none" stroke-linejoin="round" />
</g>
<clipPath id="pk19"><path d="M1464.6,961.6 L1489.5,947.2 L1507.9,957.9 L1483,972.3 Z"/></clipPath>
<path d="M1464.6,961.6 L1489.5,947.2 L1507.9,957.9 L1483,972.3 Z" stroke="#1c1c1c" stroke-width="2.2" fill="#fff" stroke-linejoin="round" />
<g clip-path="url(#pk19)">
<path d="M1471.7,978 L1489.5,967.7 L1500.9,974.2 L1483,984.5 Z" stroke="#1c1c1c" stroke-width="1.5" fill="none" stroke-linejoin="round" />
<path d="M1489.5,947.2 L1489.5,967.7" stroke="#1c1c1c" stroke-width="1.2" fill="none" stroke-linejoin="round" />
<path d="M1464.6,961.6 L1471.7,978" stroke="#1c1c1c" stroke-width="1.0" fill="none" stroke-linejoin="round" />
<path d="M1507.9,957.9 L1500.9,974.2" stroke="#1c1c1c" stroke-width="1.0" fill="none" stroke-linejoin="round" />
</g>
<clipPath id="pk20"><path d="M1450.1,921.8 L1489.8,898.9 L1529.3,921.7 L1489.6,944.6 Z"/></clipPath>
<path d="M1450.1,921.8 L1489.8,898.9 L1529.3,921.7 L1489.6,944.6 Z" stroke="#1c1c1c" stroke-width="2.2" fill="#fff" stroke-linejoin="round" />
<g clip-path="url(#pk20)">
<path d="M1457.2,938.2 L1489.8,919.3 L1522.2,938 L1489.6,956.9 Z" stroke="#1c1c1c" stroke-width="1.5" fill="none" stroke-linejoin="round" />
<path d="M1489.8,898.9 L1489.8,919.3" stroke="#1c1c1c" stroke-width="1.2" fill="none" stroke-linejoin="round" />
<path d="M1450.1,921.8 L1457.2,938.2" stroke="#1c1c1c" stroke-width="1.0" fill="none" stroke-linejoin="round" />
<path d="M1529.3,921.7 L1522.2,938" stroke="#1c1c1c" stroke-width="1.0" fill="none" stroke-linejoin="round" />
</g>
<clipPath id="pk21"><path d="M1491.8,945.9 L1531.5,923 L1549.9,933.6 L1510.2,956.5 Z"/></clipPath>
<path d="M1491.8,945.9 L1531.5,923 L1549.9,933.6 L1510.2,956.5 Z" stroke="#1c1c1c" stroke-width="2.2" fill="#fff" stroke-linejoin="round" />
<g clip-path="url(#pk21)">
<path d="M1498.9,962.3 L1531.5,943.4 L1542.8,950 L1510.2,968.8 Z" stroke="#1c1c1c" stroke-width="1.5" fill="none" stroke-linejoin="round" />
<path d="M1531.5,923 L1531.5,943.4" stroke="#1c1c1c" stroke-width="1.2" fill="none" stroke-linejoin="round" />
<path d="M1491.8,945.9 L1498.9,962.3" stroke="#1c1c1c" stroke-width="1.0" fill="none" stroke-linejoin="round" />
<path d="M1549.9,933.6 L1542.8,950" stroke="#1c1c1c" stroke-width="1.0" fill="none" stroke-linejoin="round" />
</g>
<clipPath id="pk22"><path d="M1492.1,897.6 L1531.7,874.7 L1571.2,897.5 L1531.5,920.4 Z"/></clipPath>
<path d="M1492.1,897.6 L1531.7,874.7 L1571.2,897.5 L1531.5,920.4 Z" stroke="#1c1c1c" stroke-width="2.2" fill="#fff" stroke-linejoin="round" />
<g clip-path="url(#pk22)">
<path d="M1499.2,913.9 L1531.7,895.1 L1564.1,913.8 L1531.5,932.6 Z" stroke="#1c1c1c" stroke-width="1.5" fill="none" stroke-linejoin="round" />
<path d="M1531.7,874.7 L1531.7,895.1" stroke="#1c1c1c" stroke-width="1.2" fill="none" stroke-linejoin="round" />
<path d="M1492.1,897.6 L1499.2,913.9" stroke="#1c1c1c" stroke-width="1.0" fill="none" stroke-linejoin="round" />
<path d="M1571.2,897.5 L1564.1,913.8" stroke="#1c1c1c" stroke-width="1.0" fill="none" stroke-linejoin="round" />
</g>
<clipPath id="pk23"><path d="M1533.8,921.7 L1573.4,898.8 L1591.8,909.4 L1552.2,932.3 Z"/></clipPath>
<path d="M1533.8,921.7 L1573.4,898.8 L1591.8,909.4 L1552.2,932.3 Z" stroke="#1c1c1c" stroke-width="2.2" fill="#fff" stroke-linejoin="round" />
<g clip-path="url(#pk23)">
<path d="M1540.9,938 L1573.4,919.2 L1584.7,925.8 L1552.2,944.6 Z" stroke="#1c1c1c" stroke-width="1.5" fill="none" stroke-linejoin="round" />
<path d="M1573.4,898.8 L1573.4,919.2" stroke="#1c1c1c" stroke-width="1.2" fill="none" stroke-linejoin="round" />
<path d="M1533.8,921.7 L1540.9,938" stroke="#1c1c1c" stroke-width="1.0" fill="none" stroke-linejoin="round" />
<path d="M1591.8,909.4 L1584.7,925.8" stroke="#1c1c1c" stroke-width="1.0" fill="none" stroke-linejoin="round" />
</g>
<clipPath id="pk24"><path d="M1534,873.4 L1558.9,859.1 L1598.3,881.8 L1573.4,896.2 Z"/></clipPath>
<path d="M1534,873.4 L1558.9,859.1 L1598.3,881.8 L1573.4,896.2 Z" stroke="#1c1c1c" stroke-width="2.2" fill="#fff" stroke-linejoin="round" />
<g clip-path="url(#pk24)">
<path d="M1541.1,889.8 L1558.9,879.5 L1591.2,898.2 L1573.4,908.4 Z" stroke="#1c1c1c" stroke-width="1.5" fill="none" stroke-linejoin="round" />
<path d="M1558.9,859.1 L1558.9,879.5" stroke="#1c1c1c" stroke-width="1.2" fill="none" stroke-linejoin="round" />
<path d="M1534,873.4 L1541.1,889.8" stroke="#1c1c1c" stroke-width="1.0" fill="none" stroke-linejoin="round" />
<path d="M1598.3,881.8 L1591.2,898.2" stroke="#1c1c1c" stroke-width="1.0" fill="none" stroke-linejoin="round" />
</g>
<clipPath id="pk25"><path d="M1575.7,897.5 L1600.6,883.1 L1619,893.8 L1594.1,908.1 Z"/></clipPath>
<path d="M1575.7,897.5 L1600.6,883.1 L1619,893.8 L1594.1,908.1 Z" stroke="#1c1c1c" stroke-width="2.2" fill="#fff" stroke-linejoin="round" />
<g clip-path="url(#pk25)">
<path d="M1582.8,913.8 L1600.6,903.6 L1611.9,910.1 L1594.1,920.4 Z" stroke="#1c1c1c" stroke-width="1.5" fill="none" stroke-linejoin="round" />
<path d="M1600.6,883.1 L1600.6,903.6" stroke="#1c1c1c" stroke-width="1.2" fill="none" stroke-linejoin="round" />
<path d="M1575.7,897.5 L1582.8,913.8" stroke="#1c1c1c" stroke-width="1.0" fill="none" stroke-linejoin="round" />
<path d="M1619,893.8 L1611.9,910.1" stroke="#1c1c1c" stroke-width="1.0" fill="none" stroke-linejoin="round" />
</g>
<path d="M1408.8,899.6 L1405.7,901.9 L1403.5,904.5 L1402.4,907.3 L1402.4,910.2 L1403.5,913 L1405.6,915.5 L1408.7,917.8 L1412.6,919.6 L1417.1,920.8 L1421.9,921.4 L1426.9,921.4 L1431.8,920.8 L1436.3,919.5 L1440.2,917.7 L1526.9,867.6 L1530,865.4 L1532.2,862.8 L1533.3,860 L1533.3,857.1 L1532.2,854.3 L1530.1,851.7 L1527,849.5 L1523.1,847.7 L1518.7,846.5 L1513.8,845.8 L1508.8,845.8 L1504,846.5 L1499.5,847.8 L1495.6,849.6 Z" stroke="#1c1c1c" stroke-width="1.6" fill="#fff" stroke-linejoin="round" />
<clipPath id="slotc"><path d="M1408.8,899.6 L1405.7,901.9 L1403.5,904.5 L1402.4,907.3 L1402.4,910.2 L1403.5,913 L1405.6,915.5 L1408.7,917.8 L1412.6,919.6 L1417.1,920.8 L1421.9,921.4 L1426.9,921.4 L1431.8,920.8 L1436.3,919.5 L1440.2,917.7 L1526.9,867.6 L1530,865.4 L1532.2,862.8 L1533.3,860 L1533.3,857.1 L1532.2,854.3 L1530.1,851.7 L1527,849.5 L1523.1,847.7 L1518.7,846.5 L1513.8,845.8 L1508.8,845.8 L1504,846.5 L1499.5,847.8 L1495.6,849.6 Z"/></clipPath>
<g clip-path="url(#slotc)">
<path d="M1408.8,907 L1405.7,909.2 L1403.5,911.8 L1402.4,914.6 L1402.4,917.5 L1403.5,920.3 L1405.6,922.9 L1408.7,925.1 L1412.6,926.9 L1417.1,928.1 L1421.9,928.8 L1426.9,928.8 L1431.8,928.1 L1436.3,926.9 L1440.2,925.1 L1526.9,875 L1530,872.7 L1532.2,870.1 L1533.3,867.3 L1533.3,864.5 L1532.2,861.7 L1530.1,859.1 L1527,856.8 L1523.1,855 L1518.7,853.8 L1513.8,853.2 L1508.8,853.2 L1504,853.8 L1499.5,855.1 L1495.6,856.9 Z" stroke="#1c1c1c" stroke-width="1.4" fill="none" stroke-linejoin="round" />
</g>
<path d="M1431.8,920.8 L1436.3,919.5 L1440.2,917.7 L1526.9,867.6 L1530,865.4 L1532.2,862.8 L1533.3,860" stroke="#151515" stroke-width="3.2" fill="none" stroke-linejoin="round" />
<path d="M1354.4,872.8 L1354.4,887.8" stroke="#1c1c1c" stroke-width="1.3" fill="none" stroke-linejoin="round" />
<path d="M1365.6,872.8 L1365.6,887.8" stroke="#1c1c1c" stroke-width="1.3" fill="none" stroke-linejoin="round" />
<path d="M1364.3,870.3 L1365.6,871.5 L1366,872.8 L1365.6,874.1 L1364.3,875.2 L1362.3,876 L1360,876.2 L1357.7,876 L1355.8,875.2 L1354.5,874.1 L1354,872.8 L1354.5,871.5 L1355.8,870.3 L1357.7,869.6 L1360,869.3 L1362.3,869.6 Z" stroke="#1c1c1c" stroke-width="1.5" fill="#fff" stroke-linejoin="round" />
<path d="M1361.9,871.7 L1362.4,872.2 L1362.6,872.8 L1362.4,873.4 L1361.9,873.8 L1361,874.2 L1360,874.3 L1359,874.2 L1358.2,873.8 L1357.6,873.4 L1357.4,872.8 L1357.6,872.2 L1358.2,871.7 L1359,871.4 L1360,871.3 L1361,871.4 Z" stroke="#1c1c1c" stroke-width="1.2" fill="none" stroke-linejoin="round" />
<path d="M1438.3,824.4 L1438.3,839.4" stroke="#1c1c1c" stroke-width="1.3" fill="none" stroke-linejoin="round" />
<path d="M1449.5,824.4 L1449.5,839.4" stroke="#1c1c1c" stroke-width="1.3" fill="none" stroke-linejoin="round" />
<path d="M1448.1,821.9 L1449.4,823 L1449.9,824.4 L1449.4,825.7 L1448.1,826.8 L1446.2,827.6 L1443.9,827.8 L1441.6,827.6 L1439.6,826.8 L1438.3,825.7 L1437.9,824.4 L1438.3,823 L1439.6,821.9 L1441.6,821.2 L1443.9,820.9 L1446.2,821.2 Z" stroke="#1c1c1c" stroke-width="1.5" fill="#fff" stroke-linejoin="round" />
<path d="M1445.7,823.3 L1446.3,823.8 L1446.5,824.4 L1446.3,824.9 L1445.7,825.4 L1444.9,825.7 L1443.9,825.9 L1442.9,825.7 L1442.1,825.4 L1441.5,824.9 L1441.3,824.4 L1441.5,823.8 L1442.1,823.3 L1442.9,823 L1443.9,822.9 L1444.9,823 Z" stroke="#1c1c1c" stroke-width="1.2" fill="none" stroke-linejoin="round" />
<path d="M1484,947.6 L1484,962.6" stroke="#1c1c1c" stroke-width="1.3" fill="none" stroke-linejoin="round" />
<path d="M1495.2,947.6 L1495.2,962.6" stroke="#1c1c1c" stroke-width="1.3" fill="none" stroke-linejoin="round" />
<path d="M1493.8,945.1 L1495.1,946.2 L1495.6,947.6 L1495.1,948.9 L1493.8,950 L1491.9,950.8 L1489.6,951 L1487.3,950.8 L1485.3,950 L1484,948.9 L1483.6,947.6 L1484,946.2 L1485.3,945.1 L1487.3,944.4 L1489.6,944.1 L1491.9,944.4 Z" stroke="#1c1c1c" stroke-width="1.5" fill="#fff" stroke-linejoin="round" />
<path d="M1491.4,946.5 L1492,947 L1492.2,947.6 L1492,948.1 L1491.4,948.6 L1490.6,949 L1489.6,949.1 L1488.6,949 L1487.7,948.6 L1487.2,948.1 L1487,947.6 L1487.2,947 L1487.7,946.5 L1488.6,946.2 L1489.6,946.1 L1490.6,946.2 Z" stroke="#1c1c1c" stroke-width="1.2" fill="none" stroke-linejoin="round" />
<path d="M1567.8,899.1 L1567.8,914.1" stroke="#1c1c1c" stroke-width="1.3" fill="none" stroke-linejoin="round" />
<path d="M1579,899.1 L1579,914.1" stroke="#1c1c1c" stroke-width="1.3" fill="none" stroke-linejoin="round" />
<path d="M1577.7,896.7 L1579,897.8 L1579.4,899.1 L1579,900.5 L1577.7,901.6 L1575.7,902.3 L1573.4,902.6 L1571.1,902.3 L1569.2,901.6 L1567.9,900.5 L1567.4,899.1 L1567.9,897.8 L1569.2,896.7 L1571.1,895.9 L1573.4,895.7 L1575.7,895.9 Z" stroke="#1c1c1c" stroke-width="1.5" fill="#fff" stroke-linejoin="round" />
<path d="M1575.3,898.1 L1575.8,898.6 L1576,899.1 L1575.8,899.7 L1575.3,900.2 L1574.4,900.5 L1573.4,900.6 L1572.4,900.5 L1571.6,900.2 L1571,899.7 L1570.8,899.1 L1571,898.6 L1571.6,898.1 L1572.4,897.8 L1573.4,897.6 L1574.4,897.8 Z" stroke="#1c1c1c" stroke-width="1.2" fill="none" stroke-linejoin="round" />
</g>
</svg>
</body></html>
